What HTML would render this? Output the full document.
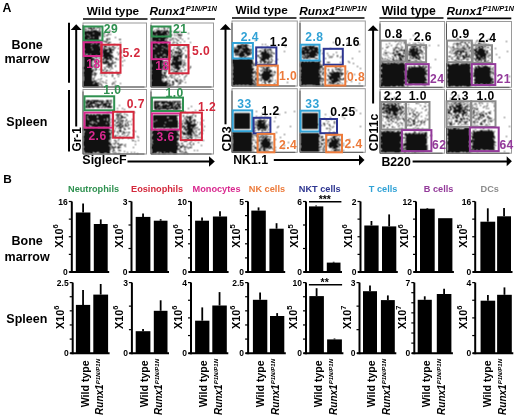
<!DOCTYPE html>
<html><head><meta charset="utf-8"><style>
html,body{margin:0;padding:0;background:#fff;}
body{width:520px;height:420px;overflow:hidden;}
svg{display:block;font-family:"Liberation Sans", sans-serif;filter:blur(0.3px);}
</style></head><body>
<svg width="520" height="420" viewBox="0 0 520 420">
<defs><filter id="bl" color-interpolation-filters="sRGB" x="-10%" y="-10%" width="120%" height="120%"><feConvolveMatrix order="3" kernelMatrix="1 2 1 2 4 2 1 2 1" divisor="16" edgeMode="none"/></filter><filter id="bl2" color-interpolation-filters="sRGB" x="0" y="0" width="100%" height="100%"><feConvolveMatrix order="3" kernelMatrix="1 2 1 2 12 2 1 2 1" divisor="24" edgeMode="duplicate"/></filter></defs>
<rect width="520" height="420" fill="#fff"/>
<g>
<text x="2.4" y="11.8" font-size="12.3" fill="#000" font-weight="bold" text-anchor="start">A</text>
<text x="27.1" y="48.5" font-size="12.5" fill="#000" font-weight="bold" text-anchor="middle">Bone</text>
<text x="27.1" y="63.4" font-size="12.5" fill="#000" font-weight="bold" text-anchor="middle">marrow</text>
<text x="26.8" y="126.3" font-size="12.5" fill="#000" font-weight="bold" text-anchor="middle">Spleen</text>
<text x="113.0" y="15" font-size="11.8" fill="#000" font-weight="bold" text-anchor="middle">Wild type</text>
<line x1="83" y1="19" x2="147.5" y2="19" stroke="#000" stroke-width="1.6"/>
<text x="149.6" y="15.4" font-size="11.8" font-weight="bold" font-style="italic">Runx1<tspan dy="-4" font-size="7.5">P1N/P1N</tspan></text>
<line x1="150.6" y1="19" x2="215" y2="19" stroke="#000" stroke-width="1.6"/>
<text x="261.6" y="14.2" font-size="11.8" fill="#000" font-weight="bold" text-anchor="middle">Wild type</text>
<line x1="232" y1="18" x2="296.5" y2="18" stroke="#000" stroke-width="1.6"/>
<text x="299.3" y="14.5" font-size="11.8" font-weight="bold" font-style="italic">Runx1<tspan dy="-4" font-size="7.5">P1N/P1N</tspan></text>
<line x1="299.6" y1="18" x2="364.5" y2="18" stroke="#000" stroke-width="1.6"/>
<text x="408.7" y="14.6" font-size="12.2" fill="#000" font-weight="bold" text-anchor="middle">Wild type</text>
<line x1="379.4" y1="18" x2="443.5" y2="18" stroke="#000" stroke-width="1.6"/>
<text x="446.5" y="14.7" font-size="11.8" font-weight="bold" font-style="italic">Runx1<tspan dy="-4" font-size="7.5">P1N/P1N</tspan></text>
<line x1="447.2" y1="18.4" x2="511.3" y2="18.4" stroke="#000" stroke-width="1.6"/>
<line x1="69" y1="22.7" x2="69" y2="82.8" stroke="#000" stroke-width="2"/>
<line x1="69" y1="90" x2="69" y2="151.5" stroke="#000" stroke-width="2"/>
<line x1="76.2" y1="28" x2="76.2" y2="126.5" stroke="#000" stroke-width="2"/>
<polygon points="76.2,24.2 70.7,29.9 81.7,29.9" fill="#000"/>
<text x="81.3" y="151.5" font-size="11.9" fill="#000" font-weight="bold" text-anchor="start" transform="rotate(-90 81.3 151.5)">Gr-1</text>
<text x="82.3" y="164.3" font-size="12.5" fill="#000" font-weight="bold" text-anchor="start">SiglecF</text>
<line x1="127.5" y1="161.4" x2="210" y2="161.4" stroke="#000" stroke-width="2"/>
<polygon points="214.8,161.4 209,156.2 209,166.8" fill="#000"/>
<line x1="225.5" y1="28" x2="225.5" y2="124.3" stroke="#000" stroke-width="2"/>
<polygon points="225.5,24 219.8,29.8 231.1,29.8" fill="#000"/>
<text x="230.6" y="151.4" font-size="12.5" fill="#000" font-weight="bold" text-anchor="start" transform="rotate(-90 230.6 151.4)">CD3</text>
<text x="233.2" y="163.5" font-size="12.3" fill="#000" font-weight="bold" text-anchor="start">NK1.1</text>
<line x1="273.8" y1="160.1" x2="360" y2="160.1" stroke="#000" stroke-width="2"/>
<polygon points="364.5,160.1 359,154.7 359,165.6" fill="#000"/>
<line x1="373.1" y1="29" x2="373.1" y2="103.5" stroke="#000" stroke-width="2"/>
<polygon points="373.1,25.2 367.6,30.8 378.6,30.8" fill="#000"/>
<text x="378.0" y="151.2" font-size="12.3" fill="#000" font-weight="bold" text-anchor="start" transform="rotate(-90 378.0 151.2)">CD11c</text>
<text x="381.4" y="165.5" font-size="12.3" fill="#000" font-weight="bold" text-anchor="start">B220</text>
<line x1="412.6" y1="161.5" x2="507" y2="161.5" stroke="#000" stroke-width="2"/>
<polygon points="511.9,161.3 506.7,156.3 506.7,166.3" fill="#000"/>
<path d="M85 27h1v1h-1zM88 27h1v1h-1zM90 27h2v1h-2zM93 27h2v1h-2zM97 27h3v1h-3zM88 28h4v1h-4zM93 28h2v1h-2zM96 28h1v1h-1zM100 28h1v1h-1zM84 29h3v1h-3zM91 29h2v1h-2zM99 29h1v1h-1zM88 30h1v1h-1zM91 30h1v1h-1zM93 30h4v1h-4zM99 30h1v1h-1zM106 30h1v1h-1zM109 30h1v1h-1zM84 31h15v1h-15zM100 31h1v1h-1zM110 31h1v1h-1zM84 32h17v1h-17zM84 33h9v1h-9zM94 33h7v1h-7zM103 33h2v1h-2zM108 33h1v1h-1zM84 34h3v1h-3zM88 34h13v1h-13zM108 34h1v1h-1zM110 34h1v1h-1zM85 35h4v1h-4zM90 35h11v1h-11zM103 35h1v1h-1zM106 35h2v1h-2zM84 36h15v1h-15zM100 36h1v1h-1zM104 36h1v1h-1zM84 37h6v1h-6zM91 37h2v1h-2zM94 37h5v1h-5zM115 37h1v1h-1zM84 38h4v1h-4zM89 38h10v1h-10zM101 38h1v1h-1zM107 38h1v1h-1zM109 38h1v1h-1zM84 39h15v1h-15zM106 39h2v1h-2zM109 39h1v1h-1zM119 39h2v1h-2zM84 40h15v1h-15zM107 40h1v1h-1zM84 41h2v1h-2zM87 41h9v1h-9zM97 41h3v1h-3zM101 41h1v1h-1zM103 41h4v1h-4zM84 42h8v1h-8zM93 42h8v1h-8zM106 42h1v1h-1zM108 42h3v1h-3zM120 42h1v1h-1zM84 43h9v1h-9zM94 43h2v1h-2zM97 43h3v1h-3zM108 43h1v1h-1zM84 44h7v1h-7zM92 44h9v1h-9zM102 44h1v1h-1zM107 44h2v1h-2zM114 44h1v1h-1zM84 45h15v1h-15zM101 45h1v1h-1zM104 45h2v1h-2zM109 45h1v1h-1zM117 45h1v1h-1zM84 46h19v1h-19zM104 46h3v1h-3zM112 46h2v1h-2zM84 47h7v1h-7zM92 47h8v1h-8zM101 47h1v1h-1zM104 47h1v1h-1zM106 47h1v1h-1zM108 47h2v1h-2zM111 47h1v1h-1zM113 47h1v1h-1zM115 47h1v1h-1zM84 48h18v1h-18zM103 48h2v1h-2zM109 48h2v1h-2zM114 48h1v1h-1zM118 48h1v1h-1zM85 49h7v1h-7zM93 49h10v1h-10zM104 49h10v1h-10zM84 50h17v1h-17zM102 50h6v1h-6zM109 50h3v1h-3zM113 50h1v1h-1zM121 50h1v1h-1zM84 51h16v1h-16zM101 51h1v1h-1zM103 51h4v1h-4zM109 51h3v1h-3zM84 52h29v1h-29zM117 52h1v1h-1zM120 52h2v1h-2zM85 53h17v1h-17zM103 53h7v1h-7zM111 53h1v1h-1zM119 53h1v1h-1zM84 54h2v1h-2zM88 54h2v1h-2zM91 54h11v1h-11zM103 54h8v1h-8zM118 54h1v1h-1zM84 55h1v1h-1zM86 55h10v1h-10zM97 55h5v1h-5zM103 55h10v1h-10zM83 56h10v1h-10zM95 56h2v1h-2zM102 56h11v1h-11zM84 57h8v1h-8zM94 57h1v1h-1zM96 57h1v1h-1zM98 57h1v1h-1zM100 57h1v1h-1zM104 57h4v1h-4zM109 57h2v1h-2zM112 57h2v1h-2zM120 57h1v1h-1zM122 57h1v1h-1zM84 58h10v1h-10zM96 58h1v1h-1zM99 58h1v1h-1zM103 58h9v1h-9zM115 58h2v1h-2zM84 59h11v1h-11zM102 59h2v1h-2zM106 59h3v1h-3zM110 59h2v1h-2zM116 59h1v1h-1zM118 59h1v1h-1zM84 60h9v1h-9zM94 60h3v1h-3zM100 60h1v1h-1zM103 60h1v1h-1zM105 60h2v1h-2zM110 60h1v1h-1zM112 60h1v1h-1zM124 60h1v1h-1zM84 61h8v1h-8zM95 61h2v1h-2zM100 61h2v1h-2zM103 61h1v1h-1zM105 61h4v1h-4zM112 61h1v1h-1zM122 61h1v1h-1zM84 62h8v1h-8zM93 62h1v1h-1zM96 62h1v1h-1zM98 62h1v1h-1zM102 62h7v1h-7zM112 62h1v1h-1zM114 62h2v1h-2zM84 63h8v1h-8zM96 63h1v1h-1zM98 63h1v1h-1zM103 63h4v1h-4zM108 63h6v1h-6zM84 64h8v1h-8zM93 64h1v1h-1zM96 64h1v1h-1zM107 64h3v1h-3zM111 64h1v1h-1zM84 65h8v1h-8zM94 65h1v1h-1zM96 65h1v1h-1zM108 65h4v1h-4zM115 65h1v1h-1zM122 65h1v1h-1zM84 66h10v1h-10zM96 66h1v1h-1zM106 66h2v1h-2zM109 66h1v1h-1zM111 66h1v1h-1zM115 66h1v1h-1zM83 67h9v1h-9zM94 67h2v1h-2zM104 67h1v1h-1zM108 67h2v1h-2zM111 67h1v1h-1zM83 68h9v1h-9zM96 68h1v1h-1zM105 68h1v1h-1zM112 68h1v1h-1zM84 69h8v1h-8zM93 69h1v1h-1zM95 69h2v1h-2zM99 69h1v1h-1zM101 69h1v1h-1zM104 69h1v1h-1zM110 69h1v1h-1zM84 70h10v1h-10zM95 70h1v1h-1zM102 70h2v1h-2zM106 70h2v1h-2zM84 71h9v1h-9zM106 71h1v1h-1zM109 71h1v1h-1zM116 71h1v1h-1zM83 72h10v1h-10zM94 72h1v1h-1zM104 72h2v1h-2zM111 72h2v1h-2zM83 73h9v1h-9zM94 73h3v1h-3zM100 73h1v1h-1zM102 73h1v1h-1zM104 73h1v1h-1zM106 73h1v1h-1zM109 73h1v1h-1zM117 73h2v1h-2zM84 74h10v1h-10zM95 74h1v1h-1zM112 74h1v1h-1zM117 74h1v1h-1zM119 74h1v1h-1zM83 75h9v1h-9zM94 75h2v1h-2zM101 75h1v1h-1zM104 75h1v1h-1zM112 75h1v1h-1zM84 76h8v1h-8zM106 76h1v1h-1zM112 76h1v1h-1zM118 76h1v1h-1zM84 77h8v1h-8zM94 77h1v1h-1zM84 78h8v1h-8zM93 78h1v1h-1zM101 78h1v1h-1zM114 78h1v1h-1zM84 79h8v1h-8zM93 79h1v1h-1zM98 79h1v1h-1zM100 79h1v1h-1zM84 80h8v1h-8zM94 80h1v1h-1zM96 80h1v1h-1zM106 80h1v1h-1zM83 81h13v1h-13zM100 81h1v1h-1zM102 81h1v1h-1zM115 81h1v1h-1zM83 82h11v1h-11zM95 82h2v1h-2zM98 82h1v1h-1zM103 82h1v1h-1zM105 82h1v1h-1zM113 82h1v1h-1zM83 83h10v1h-10zM94 83h5v1h-5zM100 83h1v1h-1zM106 83h1v1h-1zM112 83h1v1h-1zM114 83h1v1h-1zM120 83h1v1h-1zM83 84h15v1h-15zM99 84h1v1h-1zM101 84h1v1h-1zM112 84h1v1h-1zM83 85h16v1h-16zM101 85h1v1h-1zM115 85h1v1h-1zM83 86h16v1h-16zM102 86h1v1h-1zM107 86h1v1h-1zM115 86h1v1h-1z" fill="#111" filter="url(#bl)"/>
<rect x="83" y="23" width="63.5" height="64" fill="none" stroke="#9a9a9a" stroke-width="1"/>
<path d="M83 25V87H144.5" fill="none" stroke="#555" stroke-width="1"/>
<rect x="83.7" y="26.5" width="18.799999999999997" height="14.0" fill="none" stroke="#2f9150" stroke-width="2"/>
<rect x="83.7" y="42.3" width="18.0" height="13.700000000000003" fill="none" stroke="#d9288f" stroke-width="2"/>
<rect x="101.3" y="44.7" width="19.200000000000003" height="28.099999999999994" fill="none" stroke="#d4283c" stroke-width="2"/>
<text x="103.8" y="32.5" font-size="12.1" fill="#2f9150" font-weight="bold" text-anchor="start" letter-spacing="0.45">29</text>
<text x="122.4" y="57.4" font-size="12.1" fill="#d4283c" font-weight="bold" text-anchor="start" letter-spacing="0.45">5.2</text>
<text x="86.3" y="67.8" font-size="12.1" fill="#d9288f" font-weight="bold" text-anchor="start" letter-spacing="0.45">18</text>
<path d="M152 27h1v1h-1zM158 27h1v1h-1zM161 27h1v1h-1zM163 27h2v1h-2zM168 27h2v1h-2zM152 28h1v1h-1zM158 28h1v1h-1zM164 28h1v1h-1zM167 28h1v1h-1zM156 29h1v1h-1zM164 29h1v1h-1zM154 30h1v1h-1zM157 30h3v1h-3zM161 30h2v1h-2zM164 30h1v1h-1zM166 30h2v1h-2zM152 31h2v1h-2zM156 31h6v1h-6zM163 31h6v1h-6zM170 31h2v1h-2zM174 31h1v1h-1zM176 31h1v1h-1zM179 31h1v1h-1zM152 32h9v1h-9zM162 32h5v1h-5zM168 32h2v1h-2zM176 32h1v1h-1zM181 32h1v1h-1zM152 33h15v1h-15zM168 33h1v1h-1zM174 33h1v1h-1zM177 33h1v1h-1zM188 33h1v1h-1zM152 34h4v1h-4zM157 34h11v1h-11zM169 34h1v1h-1zM171 34h1v1h-1zM178 34h2v1h-2zM181 34h1v1h-1zM152 35h1v1h-1zM154 35h11v1h-11zM166 35h1v1h-1zM168 35h1v1h-1zM170 35h2v1h-2zM174 35h1v1h-1zM176 35h1v1h-1zM178 35h4v1h-4zM152 36h4v1h-4zM157 36h5v1h-5zM163 36h4v1h-4zM168 36h1v1h-1zM152 37h16v1h-16zM170 37h1v1h-1zM178 37h1v1h-1zM180 37h1v1h-1zM152 38h14v1h-14zM167 38h1v1h-1zM172 38h2v1h-2zM175 38h1v1h-1zM180 38h1v1h-1zM188 38h1v1h-1zM152 39h7v1h-7zM160 39h5v1h-5zM166 39h1v1h-1zM169 39h1v1h-1zM171 39h1v1h-1zM176 39h1v1h-1zM182 39h1v1h-1zM152 40h13v1h-13zM166 40h1v1h-1zM170 40h1v1h-1zM173 40h1v1h-1zM177 40h2v1h-2zM152 41h1v1h-1zM154 41h1v1h-1zM156 41h11v1h-11zM168 41h1v1h-1zM184 41h1v1h-1zM152 42h2v1h-2zM155 42h3v1h-3zM159 42h3v1h-3zM164 42h4v1h-4zM173 42h2v1h-2zM176 42h1v1h-1zM180 42h1v1h-1zM190 42h1v1h-1zM152 43h6v1h-6zM160 43h7v1h-7zM172 43h1v1h-1zM177 43h1v1h-1zM152 44h16v1h-16zM177 44h1v1h-1zM152 45h3v1h-3zM156 45h12v1h-12zM169 45h1v1h-1zM171 45h1v1h-1zM177 45h1v1h-1zM180 45h1v1h-1zM184 45h1v1h-1zM186 45h1v1h-1zM152 46h4v1h-4zM157 46h5v1h-5zM163 46h7v1h-7zM178 46h2v1h-2zM187 46h1v1h-1zM152 47h12v1h-12zM165 47h3v1h-3zM170 47h1v1h-1zM174 47h1v1h-1zM177 47h1v1h-1zM184 47h1v1h-1zM187 47h1v1h-1zM152 48h1v1h-1zM155 48h11v1h-11zM167 48h2v1h-2zM176 48h4v1h-4zM182 48h2v1h-2zM152 49h10v1h-10zM163 49h5v1h-5zM169 49h1v1h-1zM173 49h1v1h-1zM179 49h2v1h-2zM152 50h20v1h-20zM173 50h1v1h-1zM178 50h1v1h-1zM180 50h2v1h-2zM185 50h1v1h-1zM152 51h20v1h-20zM175 51h2v1h-2zM178 51h1v1h-1zM181 51h1v1h-1zM188 51h1v1h-1zM152 52h9v1h-9zM162 52h8v1h-8zM172 52h1v1h-1zM174 52h8v1h-8zM152 53h6v1h-6zM159 53h10v1h-10zM172 53h1v1h-1zM176 53h1v1h-1zM178 53h3v1h-3zM183 53h1v1h-1zM152 54h12v1h-12zM165 54h4v1h-4zM170 54h2v1h-2zM174 54h2v1h-2zM177 54h1v1h-1zM179 54h1v1h-1zM181 54h2v1h-2zM188 54h1v1h-1zM152 55h3v1h-3zM156 55h7v1h-7zM164 55h1v1h-1zM166 55h3v1h-3zM171 55h1v1h-1zM173 55h1v1h-1zM177 55h5v1h-5zM185 55h2v1h-2zM152 56h16v1h-16zM170 56h1v1h-1zM172 56h10v1h-10zM186 56h1v1h-1zM152 57h3v1h-3zM156 57h4v1h-4zM162 57h6v1h-6zM169 57h3v1h-3zM173 57h6v1h-6zM180 57h2v1h-2zM185 57h2v1h-2zM189 57h1v1h-1zM152 58h4v1h-4zM157 58h7v1h-7zM166 58h2v1h-2zM169 58h1v1h-1zM173 58h6v1h-6zM180 58h1v1h-1zM151 59h11v1h-11zM172 59h8v1h-8zM181 59h1v1h-1zM151 60h12v1h-12zM166 60h1v1h-1zM168 60h1v1h-1zM171 60h1v1h-1zM173 60h5v1h-5zM180 60h1v1h-1zM182 60h1v1h-1zM184 60h1v1h-1zM151 61h12v1h-12zM164 61h1v1h-1zM172 61h2v1h-2zM175 61h7v1h-7zM151 62h14v1h-14zM166 62h1v1h-1zM169 62h1v1h-1zM172 62h10v1h-10zM183 62h2v1h-2zM151 63h11v1h-11zM163 63h1v1h-1zM165 63h2v1h-2zM171 63h11v1h-11zM185 63h1v1h-1zM152 64h11v1h-11zM164 64h2v1h-2zM170 64h12v1h-12zM183 64h2v1h-2zM152 65h10v1h-10zM163 65h2v1h-2zM171 65h2v1h-2zM174 65h5v1h-5zM180 65h1v1h-1zM183 65h1v1h-1zM185 65h1v1h-1zM152 66h15v1h-15zM168 66h1v1h-1zM173 66h1v1h-1zM175 66h4v1h-4zM182 66h1v1h-1zM190 66h1v1h-1zM151 67h12v1h-12zM165 67h2v1h-2zM171 67h1v1h-1zM173 67h8v1h-8zM183 67h1v1h-1zM190 67h1v1h-1zM151 68h11v1h-11zM163 68h3v1h-3zM175 68h5v1h-5zM189 68h1v1h-1zM151 69h12v1h-12zM164 69h3v1h-3zM171 69h2v1h-2zM174 69h1v1h-1zM177 69h3v1h-3zM185 69h1v1h-1zM152 70h10v1h-10zM164 70h1v1h-1zM166 70h1v1h-1zM170 70h1v1h-1zM173 70h1v1h-1zM177 70h1v1h-1zM181 70h1v1h-1zM184 70h1v1h-1zM151 71h11v1h-11zM166 71h1v1h-1zM174 71h4v1h-4zM179 71h1v1h-1zM181 71h1v1h-1zM151 72h11v1h-11zM163 72h3v1h-3zM172 72h2v1h-2zM175 72h3v1h-3zM152 73h10v1h-10zM164 73h2v1h-2zM178 73h1v1h-1zM182 73h1v1h-1zM187 73h1v1h-1zM151 74h12v1h-12zM164 74h1v1h-1zM171 74h1v1h-1zM175 74h2v1h-2zM178 74h1v1h-1zM182 74h1v1h-1zM151 75h15v1h-15zM170 75h1v1h-1zM172 75h1v1h-1zM186 75h1v1h-1zM151 76h11v1h-11zM163 76h1v1h-1zM165 76h2v1h-2zM170 76h1v1h-1zM174 76h1v1h-1zM179 76h1v1h-1zM185 76h1v1h-1zM151 77h13v1h-13zM165 77h2v1h-2zM168 77h1v1h-1zM171 77h2v1h-2zM184 77h1v1h-1zM151 78h11v1h-11zM163 78h1v1h-1zM174 78h1v1h-1zM177 78h1v1h-1zM151 79h11v1h-11zM167 79h1v1h-1zM175 79h1v1h-1zM180 79h1v1h-1zM184 79h1v1h-1zM152 80h10v1h-10zM163 80h1v1h-1zM169 80h1v1h-1zM175 80h3v1h-3zM179 80h1v1h-1zM181 80h1v1h-1zM151 81h12v1h-12zM165 81h3v1h-3zM169 81h1v1h-1zM172 81h2v1h-2zM176 81h2v1h-2zM180 81h1v1h-1zM182 81h1v1h-1zM151 82h16v1h-16zM172 82h2v1h-2zM178 82h1v1h-1zM180 82h1v1h-1zM185 82h1v1h-1zM151 83h19v1h-19zM173 83h1v1h-1zM179 83h2v1h-2zM151 84h17v1h-17zM170 84h1v1h-1zM172 84h2v1h-2zM178 84h1v1h-1zM151 85h16v1h-16zM168 85h3v1h-3zM172 85h1v1h-1zM151 86h18v1h-18zM170 86h1v1h-1zM177 86h1v1h-1z" fill="#111" filter="url(#bl)"/>
<rect x="151" y="23" width="62.5" height="64" fill="none" stroke="#9a9a9a" stroke-width="1"/>
<path d="M151 25V87H211.5" fill="none" stroke="#555" stroke-width="1"/>
<rect x="151.7" y="26.5" width="18.80000000000001" height="10.0" fill="none" stroke="#2f9150" stroke-width="2"/>
<rect x="151.7" y="42.5" width="18.0" height="16.700000000000003" fill="none" stroke="#d9288f" stroke-width="2"/>
<rect x="169.3" y="45" width="19.19999999999999" height="28.299999999999997" fill="none" stroke="#d4283c" stroke-width="2"/>
<text x="173" y="32.8" font-size="12.1" fill="#2f9150" font-weight="bold" text-anchor="start" letter-spacing="0.45">21</text>
<text x="192" y="55" font-size="12.1" fill="#d4283c" font-weight="bold" text-anchor="start" letter-spacing="0.45">5.0</text>
<text x="155.3" y="69.8" font-size="12.1" fill="#d9288f" font-weight="bold" text-anchor="start" letter-spacing="0.45">18</text>
<path d="M86 100h4v1h-4zM91 100h8v1h-8zM100 100h1v1h-1zM102 100h1v1h-1zM106 100h3v1h-3zM110 100h2v1h-2zM85 101h1v1h-1zM87 101h5v1h-5zM93 101h12v1h-12zM106 101h3v1h-3zM110 101h1v1h-1zM85 102h4v1h-4zM90 102h5v1h-5zM96 102h1v1h-1zM99 102h1v1h-1zM101 102h2v1h-2zM106 102h1v1h-1zM108 102h1v1h-1zM111 102h1v1h-1zM86 103h2v1h-2zM89 103h7v1h-7zM97 103h1v1h-1zM101 103h10v1h-10zM86 104h1v1h-1zM88 104h4v1h-4zM95 104h7v1h-7zM103 104h4v1h-4zM109 104h2v1h-2zM86 105h4v1h-4zM91 105h2v1h-2zM95 105h1v1h-1zM97 105h4v1h-4zM102 105h5v1h-5zM108 105h2v1h-2zM119 105h1v1h-1zM85 106h2v1h-2zM88 106h11v1h-11zM103 106h1v1h-1zM105 106h7v1h-7zM85 107h6v1h-6zM92 107h2v1h-2zM97 107h3v1h-3zM101 107h2v1h-2zM104 107h2v1h-2zM107 107h5v1h-5zM129 107h1v1h-1zM117 108h1v1h-1zM122 108h1v1h-1zM124 109h1v1h-1zM109 111h1v1h-1zM113 111h1v1h-1zM117 111h1v1h-1zM107 112h1v1h-1zM117 112h1v1h-1zM119 112h1v1h-1zM121 112h1v1h-1zM124 112h1v1h-1zM134 112h1v1h-1zM120 113h1v1h-1zM85 114h4v1h-4zM90 114h2v1h-2zM93 114h2v1h-2zM96 114h5v1h-5zM102 114h8v1h-8zM116 114h4v1h-4zM124 114h1v1h-1zM126 114h1v1h-1zM85 115h25v1h-25zM116 115h1v1h-1zM118 115h1v1h-1zM120 115h2v1h-2zM127 115h1v1h-1zM85 116h2v1h-2zM88 116h9v1h-9zM98 116h12v1h-12zM117 116h2v1h-2zM121 116h2v1h-2zM85 117h12v1h-12zM98 117h12v1h-12zM117 117h1v1h-1zM119 117h1v1h-1zM121 117h5v1h-5zM85 118h2v1h-2zM88 118h19v1h-19zM108 118h2v1h-2zM116 118h1v1h-1zM118 118h1v1h-1zM120 118h2v1h-2zM85 119h3v1h-3zM89 119h15v1h-15zM105 119h2v1h-2zM108 119h2v1h-2zM111 119h1v1h-1zM117 119h1v1h-1zM119 119h1v1h-1zM126 119h1v1h-1zM132 119h1v1h-1zM85 120h12v1h-12zM99 120h8v1h-8zM108 120h2v1h-2zM114 120h2v1h-2zM118 120h1v1h-1zM120 120h4v1h-4zM126 120h1v1h-1zM85 121h7v1h-7zM93 121h5v1h-5zM99 121h11v1h-11zM112 121h1v1h-1zM114 121h1v1h-1zM118 121h1v1h-1zM120 121h1v1h-1zM122 121h1v1h-1zM125 121h1v1h-1zM128 121h1v1h-1zM130 121h1v1h-1zM85 122h5v1h-5zM91 122h1v1h-1zM93 122h1v1h-1zM95 122h14v1h-14zM110 122h1v1h-1zM116 122h3v1h-3zM120 122h1v1h-1zM122 122h1v1h-1zM127 122h1v1h-1zM85 123h7v1h-7zM93 123h3v1h-3zM97 123h9v1h-9zM107 123h3v1h-3zM116 123h1v1h-1zM119 123h2v1h-2zM122 123h1v1h-1zM125 123h1v1h-1zM127 123h1v1h-1zM85 124h25v1h-25zM114 124h1v1h-1zM118 124h1v1h-1zM120 124h2v1h-2zM125 124h1v1h-1zM128 124h1v1h-1zM131 124h1v1h-1zM85 125h4v1h-4zM90 125h20v1h-20zM111 125h1v1h-1zM115 125h1v1h-1zM117 125h4v1h-4zM122 125h2v1h-2zM125 125h2v1h-2zM128 125h1v1h-1zM84 126h6v1h-6zM92 126h18v1h-18zM113 126h1v1h-1zM116 126h2v1h-2zM119 126h1v1h-1zM121 126h2v1h-2zM125 126h1v1h-1zM127 126h1v1h-1zM84 127h1v1h-1zM87 127h2v1h-2zM90 127h3v1h-3zM94 127h4v1h-4zM100 127h1v1h-1zM102 127h1v1h-1zM105 127h1v1h-1zM107 127h2v1h-2zM119 127h3v1h-3zM123 127h1v1h-1zM83 128h26v1h-26zM115 128h1v1h-1zM118 128h1v1h-1zM120 128h1v1h-1zM124 128h1v1h-1zM128 128h2v1h-2zM83 129h27v1h-27zM112 129h1v1h-1zM120 129h1v1h-1zM124 129h2v1h-2zM83 130h29v1h-29zM114 130h1v1h-1zM119 130h2v1h-2zM133 130h1v1h-1zM85 131h24v1h-24zM112 131h1v1h-1zM114 131h1v1h-1zM117 131h1v1h-1zM119 131h3v1h-3zM123 131h1v1h-1zM135 131h1v1h-1zM84 132h26v1h-26zM111 132h3v1h-3zM117 132h1v1h-1zM123 132h2v1h-2zM126 132h1v1h-1zM128 132h2v1h-2zM84 133h27v1h-27zM112 133h1v1h-1zM118 133h1v1h-1zM122 133h1v1h-1zM124 133h1v1h-1zM84 134h27v1h-27zM122 134h1v1h-1zM128 134h1v1h-1zM133 134h1v1h-1zM84 135h26v1h-26zM111 135h1v1h-1zM115 135h1v1h-1zM117 135h1v1h-1zM124 135h1v1h-1zM127 135h1v1h-1zM83 136h27v1h-27zM114 136h2v1h-2zM119 136h2v1h-2zM126 136h1v1h-1zM137 136h1v1h-1zM83 137h29v1h-29zM115 137h1v1h-1zM122 137h2v1h-2zM129 137h1v1h-1zM138 137h1v1h-1zM84 138h26v1h-26zM118 138h2v1h-2zM122 138h1v1h-1zM128 138h1v1h-1zM131 138h1v1h-1zM83 139h28v1h-28zM84 140h25v1h-25zM114 140h2v1h-2zM118 140h1v1h-1zM132 140h2v1h-2zM138 140h1v1h-1zM83 141h26v1h-26zM110 141h1v1h-1zM116 141h1v1h-1zM135 141h1v1h-1zM83 142h27v1h-27zM115 142h1v1h-1zM83 143h28v1h-28zM113 143h1v1h-1zM115 143h1v1h-1zM117 143h2v1h-2zM83 144h29v1h-29zM114 144h1v1h-1zM118 144h1v1h-1zM120 144h3v1h-3zM125 144h1v1h-1zM135 144h1v1h-1zM83 145h26v1h-26zM110 145h1v1h-1zM119 145h2v1h-2zM124 145h1v1h-1zM84 146h26v1h-26zM111 146h2v1h-2zM115 146h1v1h-1zM118 146h1v1h-1zM125 146h1v1h-1zM84 147h27v1h-27zM112 147h4v1h-4zM117 147h4v1h-4zM133 147h1v1h-1zM83 148h27v1h-27zM111 148h1v1h-1zM113 148h1v1h-1zM118 148h1v1h-1zM83 149h28v1h-28zM113 149h1v1h-1zM84 150h26v1h-26zM113 150h2v1h-2zM118 150h3v1h-3zM84 151h26v1h-26zM112 151h1v1h-1zM124 151h1v1h-1zM83 152h1v1h-1zM85 152h8v1h-8zM94 152h3v1h-3zM99 152h11v1h-11zM113 152h1v1h-1zM115 152h1v1h-1zM127 152h1v1h-1zM131 152h1v1h-1zM134 152h1v1h-1zM85 153h1v1h-1zM88 153h1v1h-1zM90 153h3v1h-3zM98 153h1v1h-1zM100 153h4v1h-4zM107 153h3v1h-3zM114 153h1v1h-1zM116 153h1v1h-1zM118 153h2v1h-2zM137 153h1v1h-1z" fill="#111" filter="url(#bl)"/>
<rect x="83" y="89.5" width="63.5" height="64.5" fill="none" stroke="#9a9a9a" stroke-width="1"/>
<path d="M83 91.5V154H144.5" fill="none" stroke="#555" stroke-width="1"/>
<rect x="84.5" y="96.3" width="29.700000000000003" height="14.0" fill="none" stroke="#2f9150" stroke-width="2"/>
<rect x="84.5" y="112.6" width="28.200000000000003" height="15.100000000000009" fill="none" stroke="#d9288f" stroke-width="2"/>
<rect x="113.1" y="111.8" width="20.5" height="25.89999999999999" fill="none" stroke="#d4283c" stroke-width="2"/>
<text x="103.3" y="94.0" font-size="12.1" fill="#2f9150" font-weight="bold" text-anchor="start" letter-spacing="0.45">1.0</text>
<text x="126.7" y="108.3" font-size="12.1" fill="#d4283c" font-weight="bold" text-anchor="start" letter-spacing="0.45">0.7</text>
<text x="88.4" y="139.6" font-size="12.1" fill="#d9288f" font-weight="bold" text-anchor="start" letter-spacing="0.45">2.6</text>
<path d="M154 101h14v1h-14zM169 101h2v1h-2zM172 101h9v1h-9zM154 102h6v1h-6zM161 102h12v1h-12zM174 102h2v1h-2zM177 102h1v1h-1zM179 102h1v1h-1zM154 103h2v1h-2zM157 103h1v1h-1zM161 103h4v1h-4zM167 103h8v1h-8zM177 103h2v1h-2zM180 103h1v1h-1zM154 104h5v1h-5zM160 104h1v1h-1zM163 104h1v1h-1zM165 104h2v1h-2zM169 104h4v1h-4zM174 104h1v1h-1zM176 104h5v1h-5zM154 105h2v1h-2zM157 105h3v1h-3zM162 105h12v1h-12zM175 105h2v1h-2zM178 105h2v1h-2zM154 106h16v1h-16zM171 106h2v1h-2zM174 106h2v1h-2zM177 106h4v1h-4zM191 106h1v1h-1zM154 107h5v1h-5zM160 107h1v1h-1zM162 107h5v1h-5zM168 107h1v1h-1zM170 107h8v1h-8zM179 107h2v1h-2zM154 108h3v1h-3zM158 108h16v1h-16zM175 108h4v1h-4zM180 108h1v1h-1zM188 108h1v1h-1zM155 109h6v1h-6zM162 109h1v1h-1zM164 109h1v1h-1zM166 109h3v1h-3zM170 109h1v1h-1zM173 109h5v1h-5zM179 109h1v1h-1zM195 110h1v1h-1zM184 111h1v1h-1zM185 112h1v1h-1zM192 112h2v1h-2zM187 113h1v1h-1zM193 114h1v1h-1zM153 115h26v1h-26zM183 115h1v1h-1zM192 115h1v1h-1zM195 115h1v1h-1zM153 116h24v1h-24zM183 116h1v1h-1zM186 116h2v1h-2zM189 116h3v1h-3zM195 116h1v1h-1zM153 117h14v1h-14zM169 117h8v1h-8zM185 117h1v1h-1zM187 117h4v1h-4zM192 117h1v1h-1zM153 118h25v1h-25zM184 118h1v1h-1zM187 118h1v1h-1zM189 118h3v1h-3zM201 118h1v1h-1zM153 119h24v1h-24zM185 119h2v1h-2zM189 119h2v1h-2zM194 119h1v1h-1zM153 120h3v1h-3zM157 120h12v1h-12zM170 120h1v1h-1zM172 120h6v1h-6zM183 120h1v1h-1zM186 120h2v1h-2zM189 120h2v1h-2zM192 120h4v1h-4zM203 120h1v1h-1zM153 121h1v1h-1zM155 121h23v1h-23zM180 121h1v1h-1zM182 121h1v1h-1zM185 121h4v1h-4zM190 121h2v1h-2zM194 121h1v1h-1zM153 122h12v1h-12zM166 122h12v1h-12zM184 122h1v1h-1zM186 122h7v1h-7zM194 122h1v1h-1zM197 122h1v1h-1zM200 122h1v1h-1zM153 123h25v1h-25zM179 123h1v1h-1zM181 123h2v1h-2zM184 123h7v1h-7zM194 123h1v1h-1zM153 124h25v1h-25zM181 124h1v1h-1zM185 124h1v1h-1zM187 124h10v1h-10zM200 124h1v1h-1zM202 124h1v1h-1zM153 125h11v1h-11zM165 125h13v1h-13zM181 125h1v1h-1zM183 125h1v1h-1zM187 125h9v1h-9zM153 126h25v1h-25zM179 126h1v1h-1zM182 126h3v1h-3zM186 126h9v1h-9zM204 126h1v1h-1zM153 127h25v1h-25zM181 127h2v1h-2zM184 127h2v1h-2zM187 127h4v1h-4zM192 127h2v1h-2zM195 127h1v1h-1zM197 127h1v1h-1zM155 128h1v1h-1zM164 128h1v1h-1zM170 128h1v1h-1zM184 128h2v1h-2zM187 128h6v1h-6zM194 128h1v1h-1zM196 128h1v1h-1zM202 128h1v1h-1zM151 129h1v1h-1zM154 129h1v1h-1zM158 129h1v1h-1zM160 129h2v1h-2zM163 129h1v1h-1zM167 129h1v1h-1zM169 129h1v1h-1zM171 129h2v1h-2zM174 129h2v1h-2zM177 129h1v1h-1zM183 129h1v1h-1zM185 129h8v1h-8zM194 129h1v1h-1zM198 129h2v1h-2zM151 130h1v1h-1zM153 130h5v1h-5zM159 130h8v1h-8zM168 130h11v1h-11zM185 130h2v1h-2zM188 130h5v1h-5zM196 130h1v1h-1zM203 130h1v1h-1zM152 131h25v1h-25zM178 131h1v1h-1zM181 131h2v1h-2zM187 131h7v1h-7zM195 131h1v1h-1zM152 132h26v1h-26zM181 132h1v1h-1zM183 132h2v1h-2zM186 132h6v1h-6zM193 132h1v1h-1zM196 132h1v1h-1zM200 132h2v1h-2zM151 133h27v1h-27zM182 133h4v1h-4zM187 133h5v1h-5zM193 133h2v1h-2zM199 133h1v1h-1zM202 133h1v1h-1zM153 134h26v1h-26zM183 134h9v1h-9zM195 134h1v1h-1zM199 134h1v1h-1zM152 135h28v1h-28zM188 135h1v1h-1zM190 135h3v1h-3zM194 135h1v1h-1zM196 135h2v1h-2zM152 136h25v1h-25zM179 136h1v1h-1zM182 136h1v1h-1zM186 136h1v1h-1zM188 136h1v1h-1zM190 136h1v1h-1zM195 136h1v1h-1zM151 137h26v1h-26zM178 137h1v1h-1zM181 137h1v1h-1zM184 137h1v1h-1zM186 137h1v1h-1zM189 137h4v1h-4zM197 137h1v1h-1zM199 137h1v1h-1zM201 137h1v1h-1zM151 138h28v1h-28zM182 138h1v1h-1zM187 138h2v1h-2zM191 138h1v1h-1zM195 138h1v1h-1zM152 139h27v1h-27zM185 139h1v1h-1zM187 139h2v1h-2zM191 139h1v1h-1zM151 140h1v1h-1zM153 140h25v1h-25zM181 140h1v1h-1zM184 140h3v1h-3zM195 140h1v1h-1zM203 140h1v1h-1zM152 141h25v1h-25zM184 141h1v1h-1zM186 141h1v1h-1zM191 141h1v1h-1zM152 142h26v1h-26zM190 142h1v1h-1zM198 142h1v1h-1zM151 143h1v1h-1zM153 143h26v1h-26zM181 143h2v1h-2zM189 143h1v1h-1zM193 143h1v1h-1zM151 144h26v1h-26zM178 144h1v1h-1zM187 144h1v1h-1zM190 144h1v1h-1zM193 144h1v1h-1zM152 145h28v1h-28zM182 145h2v1h-2zM191 145h1v1h-1zM201 145h1v1h-1zM151 146h27v1h-27zM180 146h3v1h-3zM184 146h1v1h-1zM186 146h1v1h-1zM151 147h27v1h-27zM180 147h2v1h-2zM184 147h2v1h-2zM187 147h1v1h-1zM189 147h3v1h-3zM151 148h27v1h-27zM179 148h1v1h-1zM188 148h1v1h-1zM152 149h28v1h-28zM184 149h2v1h-2zM152 150h25v1h-25zM180 150h1v1h-1zM194 150h1v1h-1zM197 150h1v1h-1zM152 151h25v1h-25zM179 151h2v1h-2zM182 151h1v1h-1zM185 151h1v1h-1zM152 152h5v1h-5zM159 152h1v1h-1zM161 152h3v1h-3zM165 152h5v1h-5zM171 152h6v1h-6zM181 152h1v1h-1zM183 152h1v1h-1zM185 152h2v1h-2zM151 153h3v1h-3zM155 153h1v1h-1zM158 153h2v1h-2zM162 153h4v1h-4zM168 153h1v1h-1zM170 153h1v1h-1zM173 153h4v1h-4zM184 153h1v1h-1zM187 153h1v1h-1z" fill="#111" filter="url(#bl)"/>
<rect x="151" y="89.5" width="62.5" height="64.5" fill="none" stroke="#9a9a9a" stroke-width="1"/>
<path d="M151 91.5V154H211.5" fill="none" stroke="#555" stroke-width="1"/>
<rect x="151.9" y="97.6" width="31.099999999999994" height="13.400000000000006" fill="none" stroke="#2f9150" stroke-width="2"/>
<rect x="151.9" y="113.4" width="28.099999999999994" height="16.19999999999999" fill="none" stroke="#d9288f" stroke-width="2"/>
<rect x="180.7" y="112.6" width="21.200000000000017" height="27.5" fill="none" stroke="#d4283c" stroke-width="2"/>
<text x="165.5" y="96.5" font-size="12.1" fill="#2f9150" font-weight="bold" text-anchor="start" letter-spacing="0.45">1.0</text>
<text x="198" y="110.6" font-size="12.1" fill="#d4283c" font-weight="bold" text-anchor="start" letter-spacing="0.45">1.2</text>
<text x="156.4" y="141.0" font-size="12.1" fill="#d9288f" font-weight="bold" text-anchor="start" letter-spacing="0.45">3.6</text>
<path d="M255 40h1v1h-1zM241 44h3v1h-3zM245 44h2v1h-2zM262 44h1v1h-1zM265 44h1v1h-1zM237 45h5v1h-5zM243 45h6v1h-6zM237 46h10v1h-10zM250 46h1v1h-1zM267 46h1v1h-1zM271 46h1v1h-1zM285 46h1v1h-1zM234 47h1v1h-1zM236 47h6v1h-6zM243 47h1v1h-1zM245 47h3v1h-3zM261 47h1v1h-1zM233 48h1v1h-1zM235 48h1v1h-1zM238 48h11v1h-11zM265 48h1v1h-1zM270 48h1v1h-1zM234 49h6v1h-6zM242 49h10v1h-10zM262 49h1v1h-1zM264 49h2v1h-2zM267 49h4v1h-4zM234 50h5v1h-5zM240 50h2v1h-2zM243 50h7v1h-7zM251 50h1v1h-1zM260 50h1v1h-1zM264 50h2v1h-2zM267 50h1v1h-1zM270 50h2v1h-2zM233 51h7v1h-7zM241 51h7v1h-7zM249 51h2v1h-2zM257 51h1v1h-1zM259 51h2v1h-2zM262 51h1v1h-1zM264 51h3v1h-3zM268 51h1v1h-1zM284 51h1v1h-1zM234 52h5v1h-5zM240 52h10v1h-10zM251 52h2v1h-2zM261 52h6v1h-6zM268 52h1v1h-1zM270 52h3v1h-3zM235 53h1v1h-1zM237 53h1v1h-1zM239 53h5v1h-5zM245 53h6v1h-6zM252 53h1v1h-1zM261 53h8v1h-8zM273 53h2v1h-2zM235 54h10v1h-10zM246 54h5v1h-5zM260 54h12v1h-12zM235 55h1v1h-1zM237 55h1v1h-1zM239 55h6v1h-6zM247 55h2v1h-2zM257 55h2v1h-2zM262 55h8v1h-8zM271 55h1v1h-1zM239 56h5v1h-5zM245 56h2v1h-2zM256 56h1v1h-1zM258 56h1v1h-1zM261 56h12v1h-12zM241 57h1v1h-1zM244 57h2v1h-2zM259 57h2v1h-2zM262 57h8v1h-8zM233 58h1v1h-1zM239 58h4v1h-4zM244 58h1v1h-1zM247 58h3v1h-3zM252 58h1v1h-1zM260 58h9v1h-9zM271 58h1v1h-1zM232 59h20v1h-20zM261 59h5v1h-5zM267 59h2v1h-2zM271 59h1v1h-1zM277 59h1v1h-1zM232 60h21v1h-21zM260 60h5v1h-5zM269 60h1v1h-1zM272 60h1v1h-1zM232 61h21v1h-21zM260 61h1v1h-1zM263 61h4v1h-4zM268 61h1v1h-1zM271 61h1v1h-1zM275 61h1v1h-1zM232 62h21v1h-21zM256 62h2v1h-2zM260 62h2v1h-2zM264 62h2v1h-2zM267 62h5v1h-5zM232 63h22v1h-22zM255 63h1v1h-1zM264 63h1v1h-1zM267 63h1v1h-1zM233 64h19v1h-19zM253 64h1v1h-1zM255 64h2v1h-2zM259 64h2v1h-2zM262 64h2v1h-2zM265 64h1v1h-1zM267 64h4v1h-4zM274 64h1v1h-1zM232 65h20v1h-20zM253 65h2v1h-2zM233 66h20v1h-20zM256 66h1v1h-1zM259 66h1v1h-1zM261 66h1v1h-1zM263 66h1v1h-1zM265 66h1v1h-1zM268 66h1v1h-1zM271 66h1v1h-1zM275 66h1v1h-1zM233 67h19v1h-19zM261 67h1v1h-1zM263 67h1v1h-1zM266 67h4v1h-4zM233 68h21v1h-21zM263 68h2v1h-2zM266 68h2v1h-2zM233 69h21v1h-21zM256 69h2v1h-2zM262 69h1v1h-1zM264 69h6v1h-6zM232 70h21v1h-21zM260 70h1v1h-1zM262 70h1v1h-1zM264 70h1v1h-1zM266 70h2v1h-2zM269 70h3v1h-3zM233 71h20v1h-20zM254 71h2v1h-2zM261 71h1v1h-1zM263 71h9v1h-9zM274 71h1v1h-1zM233 72h22v1h-22zM256 72h2v1h-2zM263 72h8v1h-8zM272 72h1v1h-1zM274 72h2v1h-2zM232 73h22v1h-22zM255 73h2v1h-2zM258 73h2v1h-2zM262 73h8v1h-8zM232 74h20v1h-20zM256 74h1v1h-1zM259 74h1v1h-1zM261 74h12v1h-12zM274 74h1v1h-1zM278 74h1v1h-1zM233 75h20v1h-20zM255 75h1v1h-1zM257 75h1v1h-1zM259 75h13v1h-13zM273 75h1v1h-1zM233 76h20v1h-20zM254 76h1v1h-1zM262 76h11v1h-11zM233 77h19v1h-19zM253 77h1v1h-1zM256 77h1v1h-1zM261 77h9v1h-9zM232 78h21v1h-21zM255 78h2v1h-2zM258 78h1v1h-1zM260 78h1v1h-1zM262 78h8v1h-8zM272 78h1v1h-1zM232 79h21v1h-21zM255 79h2v1h-2zM258 79h1v1h-1zM261 79h1v1h-1zM263 79h6v1h-6zM270 79h1v1h-1zM233 80h22v1h-22zM256 80h1v1h-1zM258 80h1v1h-1zM260 80h2v1h-2zM264 80h4v1h-4zM269 80h2v1h-2zM272 80h1v1h-1zM275 80h1v1h-1zM233 81h20v1h-20zM254 81h1v1h-1zM257 81h1v1h-1zM264 81h1v1h-1zM268 81h4v1h-4zM232 82h21v1h-21zM254 82h2v1h-2zM262 82h1v1h-1zM264 82h2v1h-2zM268 82h2v1h-2zM276 82h1v1h-1zM287 82h1v1h-1zM232 83h22v1h-22zM256 83h1v1h-1zM258 83h1v1h-1zM265 83h1v1h-1zM274 83h1v1h-1zM233 84h24v1h-24zM261 84h1v1h-1zM265 84h1v1h-1zM269 84h1v1h-1zM274 84h1v1h-1zM232 85h3v1h-3zM237 85h1v1h-1zM241 85h1v1h-1zM245 85h1v1h-1zM249 85h3v1h-3zM254 85h1v1h-1zM263 85h1v1h-1zM265 85h1v1h-1zM270 85h1v1h-1z" fill="#111" filter="url(#bl)"/>
<rect x="232" y="21" width="65.30000000000001" height="65" fill="none" stroke="#9a9a9a" stroke-width="1"/>
<path d="M232 23V86H295.3" fill="none" stroke="#555" stroke-width="1"/>
<rect x="232.7" y="43" width="20.200000000000017" height="15.5" fill="none" stroke="#31a2d6" stroke-width="2"/>
<rect x="256.2" y="47.4" width="20.19999999999999" height="17.500000000000007" fill="none" stroke="#2d3590" stroke-width="2"/>
<rect x="257.6" y="65.6" width="20.19999999999999" height="19.5" fill="none" stroke="#ec7a3a" stroke-width="2"/>
<text x="240.7" y="41.2" font-size="12.1" fill="#31a2d6" font-weight="bold" text-anchor="start" letter-spacing="0.45">2.4</text>
<text x="269.8" y="45.5" font-size="12.1" fill="#000" font-weight="bold" text-anchor="start" letter-spacing="0.45">1.2</text>
<text x="279" y="79.5" font-size="12.1" fill="#ec7a3a" font-weight="bold" text-anchor="start" letter-spacing="0.45">1.0</text>
<path d="M354 40h1v1h-1zM333 42h1v1h-1zM347 43h1v1h-1zM359 44h1v1h-1zM310 45h1v1h-1zM313 45h2v1h-2zM305 46h9v1h-9zM302 47h5v1h-5zM308 47h10v1h-10zM302 48h6v1h-6zM309 48h9v1h-9zM330 48h1v1h-1zM301 49h2v1h-2zM304 49h9v1h-9zM314 49h5v1h-5zM324 49h1v1h-1zM300 50h1v1h-1zM302 50h8v1h-8zM311 50h7v1h-7zM319 50h2v1h-2zM301 51h4v1h-4zM306 51h3v1h-3zM310 51h8v1h-8zM319 51h1v1h-1zM359 51h1v1h-1zM300 52h20v1h-20zM336 52h1v1h-1zM302 53h14v1h-14zM317 53h2v1h-2zM322 53h1v1h-1zM327 53h1v1h-1zM301 54h4v1h-4zM307 54h1v1h-1zM309 54h8v1h-8zM319 54h1v1h-1zM333 54h1v1h-1zM304 55h14v1h-14zM328 55h1v1h-1zM337 55h1v1h-1zM302 56h2v1h-2zM305 56h1v1h-1zM307 56h8v1h-8zM330 56h1v1h-1zM332 56h1v1h-1zM337 56h1v1h-1zM341 56h1v1h-1zM302 57h1v1h-1zM304 57h5v1h-5zM310 57h5v1h-5zM329 57h1v1h-1zM331 57h1v1h-1zM340 57h1v1h-1zM303 58h2v1h-2zM306 58h2v1h-2zM309 58h1v1h-1zM315 58h3v1h-3zM325 58h1v1h-1zM352 58h1v1h-1zM309 60h1v1h-1zM319 60h1v1h-1zM301 61h3v1h-3zM305 61h2v1h-2zM308 61h2v1h-2zM311 61h4v1h-4zM316 61h1v1h-1zM318 61h3v1h-3zM348 61h1v1h-1zM301 62h19v1h-19zM327 62h3v1h-3zM340 62h1v1h-1zM349 62h1v1h-1zM300 63h20v1h-20zM353 63h1v1h-1zM300 64h21v1h-21zM323 64h1v1h-1zM300 65h20v1h-20zM321 65h2v1h-2zM326 65h1v1h-1zM332 65h1v1h-1zM339 65h1v1h-1zM300 66h22v1h-22zM335 66h1v1h-1zM340 66h1v1h-1zM357 66h1v1h-1zM301 67h22v1h-22zM335 67h2v1h-2zM340 67h1v1h-1zM301 68h19v1h-19zM323 68h1v1h-1zM325 68h1v1h-1zM338 68h1v1h-1zM360 68h1v1h-1zM301 69h20v1h-20zM322 69h2v1h-2zM328 69h1v1h-1zM332 69h1v1h-1zM335 69h6v1h-6zM342 69h1v1h-1zM300 70h19v1h-19zM328 70h1v1h-1zM332 70h1v1h-1zM339 70h1v1h-1zM341 70h1v1h-1zM300 71h22v1h-22zM323 71h1v1h-1zM332 71h2v1h-2zM337 71h1v1h-1zM340 71h1v1h-1zM347 71h1v1h-1zM301 72h18v1h-18zM320 72h1v1h-1zM323 72h1v1h-1zM329 72h1v1h-1zM331 72h1v1h-1zM333 72h7v1h-7zM341 72h1v1h-1zM301 73h19v1h-19zM322 73h2v1h-2zM326 73h1v1h-1zM329 73h15v1h-15zM346 73h1v1h-1zM300 74h20v1h-20zM322 74h1v1h-1zM330 74h10v1h-10zM341 74h2v1h-2zM354 74h1v1h-1zM301 75h20v1h-20zM323 75h1v1h-1zM327 75h2v1h-2zM331 75h9v1h-9zM341 75h1v1h-1zM300 76h19v1h-19zM320 76h1v1h-1zM328 76h13v1h-13zM300 77h21v1h-21zM329 77h11v1h-11zM301 78h23v1h-23zM329 78h9v1h-9zM339 78h2v1h-2zM343 78h2v1h-2zM300 79h20v1h-20zM321 79h1v1h-1zM323 79h1v1h-1zM325 79h1v1h-1zM327 79h1v1h-1zM329 79h3v1h-3zM333 79h6v1h-6zM340 79h4v1h-4zM300 80h21v1h-21zM323 80h1v1h-1zM327 80h1v1h-1zM331 80h9v1h-9zM301 81h19v1h-19zM321 81h2v1h-2zM329 81h1v1h-1zM331 81h7v1h-7zM339 81h1v1h-1zM346 81h1v1h-1zM351 81h1v1h-1zM301 82h19v1h-19zM329 82h2v1h-2zM332 82h4v1h-4zM340 82h1v1h-1zM301 83h19v1h-19zM322 83h1v1h-1zM328 83h1v1h-1zM330 83h4v1h-4zM337 83h2v1h-2zM342 83h1v1h-1zM359 83h1v1h-1zM301 84h20v1h-20zM322 84h2v1h-2zM333 84h1v1h-1zM335 84h1v1h-1zM337 84h1v1h-1zM339 84h1v1h-1zM300 85h3v1h-3zM305 85h1v1h-1zM313 85h1v1h-1zM315 85h5v1h-5zM322 85h1v1h-1zM330 85h1v1h-1zM336 85h1v1h-1z" fill="#111" filter="url(#bl)"/>
<rect x="300" y="21" width="65.30000000000001" height="65" fill="none" stroke="#9a9a9a" stroke-width="1"/>
<path d="M300 23V86H363.3" fill="none" stroke="#555" stroke-width="1"/>
<rect x="300.7" y="44.7" width="18.80000000000001" height="15.799999999999997" fill="none" stroke="#31a2d6" stroke-width="2"/>
<rect x="323.7" y="48.8" width="19.100000000000023" height="15.900000000000006" fill="none" stroke="#2d3590" stroke-width="2"/>
<rect x="325.3" y="66.3" width="20.0" height="19.200000000000003" fill="none" stroke="#ec7a3a" stroke-width="2"/>
<text x="305.3" y="41.2" font-size="12.1" fill="#31a2d6" font-weight="bold" text-anchor="start" letter-spacing="0.45">2.8</text>
<text x="334.5" y="46.3" font-size="12.1" fill="#000" font-weight="bold" text-anchor="start" letter-spacing="0.45">0.16</text>
<text x="347" y="80.5" font-size="12.1" fill="#ec7a3a" font-weight="bold" text-anchor="start" letter-spacing="0.45">0.8</text>
<path d="M256 111h1v1h-1zM294 111h1v1h-1zM285 112h1v1h-1zM234 113h16v1h-16zM262 113h1v1h-1zM274 113h1v1h-1zM234 114h16v1h-16zM279 114h1v1h-1zM234 115h16v1h-16zM265 115h1v1h-1zM234 116h16v1h-16zM256 116h1v1h-1zM261 116h1v1h-1zM234 117h16v1h-16zM259 117h1v1h-1zM264 117h1v1h-1zM267 117h1v1h-1zM275 117h1v1h-1zM234 118h16v1h-16zM255 118h1v1h-1zM259 118h1v1h-1zM267 118h1v1h-1zM234 119h16v1h-16zM260 119h1v1h-1zM264 119h1v1h-1zM234 120h16v1h-16zM257 120h8v1h-8zM266 120h1v1h-1zM234 121h16v1h-16zM255 121h1v1h-1zM258 121h6v1h-6zM265 121h1v1h-1zM274 121h1v1h-1zM234 122h16v1h-16zM253 122h1v1h-1zM256 122h6v1h-6zM263 122h3v1h-3zM269 122h1v1h-1zM234 123h16v1h-16zM255 123h1v1h-1zM258 123h7v1h-7zM234 124h16v1h-16zM254 124h1v1h-1zM256 124h10v1h-10zM267 124h1v1h-1zM269 124h1v1h-1zM234 125h16v1h-16zM255 125h1v1h-1zM257 125h8v1h-8zM266 125h1v1h-1zM269 125h1v1h-1zM234 126h16v1h-16zM257 126h11v1h-11zM278 126h1v1h-1zM290 126h1v1h-1zM234 127h16v1h-16zM254 127h2v1h-2zM257 127h1v1h-1zM259 127h7v1h-7zM267 127h1v1h-1zM277 127h1v1h-1zM234 128h16v1h-16zM253 128h2v1h-2zM257 128h10v1h-10zM258 129h2v1h-2zM263 129h1v1h-1zM265 129h1v1h-1zM268 129h1v1h-1zM255 130h1v1h-1zM258 130h1v1h-1zM261 130h2v1h-2zM264 130h2v1h-2zM254 131h1v1h-1zM262 131h1v1h-1zM267 131h1v1h-1zM232 132h20v1h-20zM276 132h1v1h-1zM232 133h20v1h-20zM261 133h1v1h-1zM266 133h1v1h-1zM268 133h1v1h-1zM233 134h21v1h-21zM255 134h1v1h-1zM257 134h1v1h-1zM259 134h1v1h-1zM261 134h1v1h-1zM263 134h1v1h-1zM266 134h1v1h-1zM284 134h1v1h-1zM232 135h20v1h-20zM254 135h1v1h-1zM256 135h1v1h-1zM262 135h1v1h-1zM265 135h1v1h-1zM232 136h21v1h-21zM256 136h3v1h-3zM260 136h2v1h-2zM263 136h2v1h-2zM266 136h3v1h-3zM270 136h1v1h-1zM233 137h19v1h-19zM253 137h1v1h-1zM258 137h1v1h-1zM260 137h1v1h-1zM262 137h2v1h-2zM265 137h2v1h-2zM270 137h1v1h-1zM280 137h1v1h-1zM232 138h20v1h-20zM259 138h1v1h-1zM262 138h1v1h-1zM264 138h3v1h-3zM268 138h1v1h-1zM233 139h19v1h-19zM253 139h1v1h-1zM258 139h1v1h-1zM261 139h1v1h-1zM263 139h8v1h-8zM275 139h1v1h-1zM233 140h19v1h-19zM253 140h1v1h-1zM255 140h1v1h-1zM258 140h10v1h-10zM269 140h1v1h-1zM233 141h19v1h-19zM258 141h1v1h-1zM262 141h8v1h-8zM233 142h19v1h-19zM255 142h3v1h-3zM260 142h10v1h-10zM271 142h2v1h-2zM288 142h1v1h-1zM233 143h20v1h-20zM261 143h10v1h-10zM232 144h20v1h-20zM257 144h2v1h-2zM260 144h11v1h-11zM272 144h1v1h-1zM233 145h19v1h-19zM254 145h1v1h-1zM262 145h8v1h-8zM284 145h1v1h-1zM232 146h20v1h-20zM253 146h1v1h-1zM258 146h1v1h-1zM260 146h12v1h-12zM233 147h19v1h-19zM254 147h3v1h-3zM261 147h1v1h-1zM263 147h6v1h-6zM270 147h2v1h-2zM275 147h1v1h-1zM232 148h20v1h-20zM255 148h2v1h-2zM259 148h3v1h-3zM263 148h2v1h-2zM266 148h1v1h-1zM268 148h3v1h-3zM272 148h1v1h-1zM283 148h1v1h-1zM233 149h19v1h-19zM253 149h1v1h-1zM257 149h3v1h-3zM263 149h3v1h-3zM273 149h1v1h-1zM232 150h20v1h-20zM259 150h3v1h-3zM263 150h2v1h-2zM267 150h1v1h-1zM275 150h1v1h-1zM232 151h20v1h-20zM253 151h1v1h-1zM257 151h3v1h-3zM264 151h3v1h-3zM268 151h1v1h-1z" fill="#111" filter="url(#bl)"/>
<rect x="232" y="88.7" width="65.30000000000001" height="63.60000000000001" fill="none" stroke="#9a9a9a" stroke-width="1"/>
<path d="M232 90.7V152.3H295.3" fill="none" stroke="#555" stroke-width="1"/>
<rect x="232.7" y="110.4" width="19.5" height="20.799999999999983" fill="none" stroke="#31a2d6" stroke-width="2"/>
<rect x="253.6" y="117.8" width="16.799999999999983" height="15.500000000000014" fill="none" stroke="#2d3590" stroke-width="2"/>
<rect x="257.6" y="133.9" width="16.799999999999955" height="18.400000000000006" fill="none" stroke="#ec7a3a" stroke-width="2"/>
<text x="237.3" y="108.0" font-size="12.1" fill="#31a2d6" font-weight="bold" text-anchor="start" letter-spacing="0.45">33</text>
<text x="261.6" y="115.1" font-size="12.1" fill="#000" font-weight="bold" text-anchor="start" letter-spacing="0.45">1.2</text>
<text x="279.1" y="148.7" font-size="12.1" fill="#ec7a3a" font-weight="bold" text-anchor="start" letter-spacing="0.45">2.4</text>
<path d="M354 108h1v1h-1zM335 110h1v1h-1zM348 110h1v1h-1zM356 110h1v1h-1zM302 113h16v1h-16zM332 113h1v1h-1zM360 113h1v1h-1zM302 114h16v1h-16zM325 114h1v1h-1zM302 115h16v1h-16zM302 116h16v1h-16zM342 116h1v1h-1zM302 117h16v1h-16zM330 117h1v1h-1zM302 118h16v1h-16zM324 118h1v1h-1zM344 118h1v1h-1zM302 119h16v1h-16zM331 119h1v1h-1zM302 120h16v1h-16zM326 120h1v1h-1zM302 121h16v1h-16zM328 121h1v1h-1zM334 121h1v1h-1zM302 122h16v1h-16zM334 122h1v1h-1zM302 123h16v1h-16zM323 123h2v1h-2zM327 123h1v1h-1zM334 123h1v1h-1zM302 124h17v1h-17zM324 124h1v1h-1zM329 124h1v1h-1zM302 125h16v1h-16zM321 125h1v1h-1zM324 125h1v1h-1zM329 125h1v1h-1zM302 126h16v1h-16zM330 126h1v1h-1zM333 126h1v1h-1zM360 126h1v1h-1zM302 127h16v1h-16zM332 127h1v1h-1zM302 128h16v1h-16zM326 128h2v1h-2zM329 128h1v1h-1zM330 129h1v1h-1zM329 131h1v1h-1zM333 132h2v1h-2zM301 133h18v1h-18zM320 133h1v1h-1zM325 133h1v1h-1zM329 133h2v1h-2zM337 133h1v1h-1zM300 134h19v1h-19zM336 134h1v1h-1zM300 135h20v1h-20zM331 135h1v1h-1zM334 135h1v1h-1zM337 135h1v1h-1zM301 136h19v1h-19zM321 136h2v1h-2zM326 136h1v1h-1zM333 136h4v1h-4zM339 136h1v1h-1zM300 137h19v1h-19zM321 137h2v1h-2zM332 137h3v1h-3zM301 138h18v1h-18zM320 138h1v1h-1zM330 138h2v1h-2zM333 138h3v1h-3zM337 138h2v1h-2zM300 139h19v1h-19zM322 139h3v1h-3zM327 139h1v1h-1zM329 139h1v1h-1zM331 139h2v1h-2zM334 139h3v1h-3zM338 139h2v1h-2zM341 139h1v1h-1zM349 139h1v1h-1zM301 140h18v1h-18zM321 140h3v1h-3zM327 140h3v1h-3zM331 140h8v1h-8zM340 140h1v1h-1zM300 141h20v1h-20zM327 141h1v1h-1zM331 141h8v1h-8zM301 142h18v1h-18zM320 142h1v1h-1zM324 142h1v1h-1zM327 142h1v1h-1zM329 142h9v1h-9zM339 142h1v1h-1zM300 143h19v1h-19zM321 143h2v1h-2zM324 143h1v1h-1zM326 143h1v1h-1zM329 143h10v1h-10zM343 143h1v1h-1zM300 144h20v1h-20zM321 144h2v1h-2zM326 144h1v1h-1zM329 144h8v1h-8zM338 144h3v1h-3zM301 145h18v1h-18zM324 145h1v1h-1zM326 145h1v1h-1zM328 145h10v1h-10zM339 145h2v1h-2zM343 145h1v1h-1zM301 146h18v1h-18zM320 146h2v1h-2zM324 146h1v1h-1zM329 146h10v1h-10zM301 147h20v1h-20zM323 147h1v1h-1zM325 147h1v1h-1zM329 147h3v1h-3zM333 147h5v1h-5zM339 147h1v1h-1zM348 147h1v1h-1zM300 148h19v1h-19zM323 148h1v1h-1zM332 148h4v1h-4zM300 149h19v1h-19zM320 149h1v1h-1zM322 149h1v1h-1zM324 149h1v1h-1zM335 149h3v1h-3zM339 149h1v1h-1zM300 150h20v1h-20zM323 150h1v1h-1zM325 150h1v1h-1zM331 150h1v1h-1zM333 150h3v1h-3zM337 150h3v1h-3zM341 150h1v1h-1zM343 150h1v1h-1zM301 151h18v1h-18zM323 151h1v1h-1zM328 151h1v1h-1zM334 151h3v1h-3z" fill="#111" filter="url(#bl)"/>
<rect x="300" y="88.7" width="65.30000000000001" height="63.60000000000001" fill="none" stroke="#9a9a9a" stroke-width="1"/>
<path d="M300 90.7V152.3H363.3" fill="none" stroke="#555" stroke-width="1"/>
<rect x="300.5" y="110.7" width="19.0" height="20.799999999999997" fill="none" stroke="#31a2d6" stroke-width="2"/>
<rect x="320.3" y="119" width="16.69999999999999" height="14.199999999999989" fill="none" stroke="#2d3590" stroke-width="2"/>
<rect x="326.2" y="134.8" width="15.800000000000011" height="17.5" fill="none" stroke="#ec7a3a" stroke-width="2"/>
<text x="305.3" y="108.0" font-size="12.1" fill="#31a2d6" font-weight="bold" text-anchor="start" letter-spacing="0.45">33</text>
<text x="330.3" y="115.7" font-size="12.1" fill="#000" font-weight="bold" text-anchor="start" letter-spacing="0.45">0.25</text>
<text x="344.5" y="148.4" font-size="12.1" fill="#ec7a3a" font-weight="bold" text-anchor="start" letter-spacing="0.45">2.4</text>
<path d="M413 35h1v1h-1zM398 36h2v1h-2zM400 39h1v1h-1zM410 39h1v1h-1zM396 40h1v1h-1zM395 41h1v1h-1zM399 41h1v1h-1zM404 41h1v1h-1zM401 42h1v1h-1zM404 42h1v1h-1zM418 42h1v1h-1zM389 43h1v1h-1zM398 43h1v1h-1zM404 43h1v1h-1zM409 43h1v1h-1zM413 43h1v1h-1zM415 43h1v1h-1zM420 43h1v1h-1zM423 43h1v1h-1zM386 44h1v1h-1zM397 44h1v1h-1zM400 44h1v1h-1zM407 44h1v1h-1zM415 44h1v1h-1zM421 44h1v1h-1zM391 45h1v1h-1zM396 45h1v1h-1zM412 45h1v1h-1zM414 45h3v1h-3zM420 45h1v1h-1zM429 45h1v1h-1zM438 45h1v1h-1zM388 46h1v1h-1zM401 46h1v1h-1zM411 46h5v1h-5zM419 46h2v1h-2zM386 47h2v1h-2zM395 47h3v1h-3zM402 47h1v1h-1zM411 47h1v1h-1zM413 47h1v1h-1zM415 47h1v1h-1zM417 47h1v1h-1zM420 47h1v1h-1zM423 47h2v1h-2zM426 47h1v1h-1zM382 48h1v1h-1zM393 48h1v1h-1zM395 48h1v1h-1zM398 48h2v1h-2zM401 48h1v1h-1zM410 48h1v1h-1zM412 48h3v1h-3zM416 48h2v1h-2zM419 48h1v1h-1zM394 49h1v1h-1zM401 49h1v1h-1zM404 49h1v1h-1zM409 49h9v1h-9zM420 49h1v1h-1zM424 49h1v1h-1zM385 50h1v1h-1zM393 50h2v1h-2zM396 50h1v1h-1zM399 50h8v1h-8zM410 50h5v1h-5zM416 50h6v1h-6zM396 51h3v1h-3zM404 51h2v1h-2zM408 51h10v1h-10zM421 51h2v1h-2zM384 52h1v1h-1zM386 52h1v1h-1zM388 52h1v1h-1zM393 52h2v1h-2zM396 52h2v1h-2zM403 52h1v1h-1zM406 52h1v1h-1zM409 52h9v1h-9zM419 52h2v1h-2zM422 52h1v1h-1zM385 53h2v1h-2zM390 53h1v1h-1zM392 53h2v1h-2zM398 53h3v1h-3zM403 53h3v1h-3zM407 53h1v1h-1zM409 53h1v1h-1zM411 53h9v1h-9zM421 53h1v1h-1zM424 53h1v1h-1zM383 54h1v1h-1zM394 54h7v1h-7zM408 54h11v1h-11zM422 54h1v1h-1zM385 55h1v1h-1zM387 55h1v1h-1zM394 55h2v1h-2zM398 55h6v1h-6zM409 55h1v1h-1zM411 55h5v1h-5zM417 55h2v1h-2zM392 56h1v1h-1zM395 56h1v1h-1zM399 56h1v1h-1zM401 56h7v1h-7zM410 56h1v1h-1zM412 56h5v1h-5zM418 56h2v1h-2zM423 56h1v1h-1zM381 57h1v1h-1zM388 57h1v1h-1zM393 57h1v1h-1zM396 57h1v1h-1zM399 57h2v1h-2zM402 57h1v1h-1zM406 57h1v1h-1zM410 57h1v1h-1zM413 57h1v1h-1zM415 57h3v1h-3zM419 57h2v1h-2zM422 57h1v1h-1zM382 58h1v1h-1zM385 58h1v1h-1zM390 58h1v1h-1zM393 58h1v1h-1zM399 58h3v1h-3zM403 58h1v1h-1zM409 58h1v1h-1zM411 58h3v1h-3zM415 58h5v1h-5zM423 58h1v1h-1zM382 59h1v1h-1zM384 59h1v1h-1zM387 59h1v1h-1zM392 59h2v1h-2zM396 59h1v1h-1zM398 59h1v1h-1zM400 59h2v1h-2zM404 59h1v1h-1zM418 59h2v1h-2zM435 59h1v1h-1zM386 60h1v1h-1zM388 60h2v1h-2zM393 60h2v1h-2zM396 60h1v1h-1zM399 60h4v1h-4zM407 60h4v1h-4zM414 60h1v1h-1zM416 60h1v1h-1zM420 60h1v1h-1zM382 61h1v1h-1zM384 61h1v1h-1zM393 61h2v1h-2zM396 61h3v1h-3zM400 61h2v1h-2zM403 61h1v1h-1zM405 61h1v1h-1zM408 61h2v1h-2zM412 61h1v1h-1zM415 61h2v1h-2zM421 61h1v1h-1zM381 62h2v1h-2zM387 62h3v1h-3zM391 62h1v1h-1zM394 62h1v1h-1zM398 62h1v1h-1zM401 62h1v1h-1zM403 62h1v1h-1zM417 62h1v1h-1zM422 62h1v1h-1zM382 63h5v1h-5zM388 63h1v1h-1zM390 63h8v1h-8zM399 63h5v1h-5zM406 63h1v1h-1zM420 63h1v1h-1zM381 64h26v1h-26zM380 65h25v1h-25zM414 65h1v1h-1zM418 65h2v1h-2zM423 65h1v1h-1zM425 65h1v1h-1zM380 66h26v1h-26zM409 66h1v1h-1zM411 66h1v1h-1zM414 66h1v1h-1zM419 66h2v1h-2zM422 66h2v1h-2zM426 66h1v1h-1zM380 67h1v1h-1zM382 67h23v1h-23zM406 67h1v1h-1zM408 67h2v1h-2zM411 67h12v1h-12zM424 67h3v1h-3zM430 67h1v1h-1zM382 68h24v1h-24zM408 68h17v1h-17zM380 69h26v1h-26zM408 69h18v1h-18zM380 70h26v1h-26zM407 70h18v1h-18zM426 70h2v1h-2zM381 71h23v1h-23zM405 71h22v1h-22zM381 72h24v1h-24zM407 72h19v1h-19zM382 73h23v1h-23zM406 73h21v1h-21zM380 74h25v1h-25zM407 74h21v1h-21zM380 75h25v1h-25zM406 75h19v1h-19zM380 76h45v1h-45zM426 76h1v1h-1zM380 77h25v1h-25zM406 77h20v1h-20zM382 78h24v1h-24zM407 78h19v1h-19zM381 79h25v1h-25zM407 79h20v1h-20zM380 80h24v1h-24zM406 80h2v1h-2zM409 80h18v1h-18zM380 81h1v1h-1zM382 81h43v1h-43zM380 82h26v1h-26zM408 82h19v1h-19zM381 83h25v1h-25zM408 83h20v1h-20zM380 84h24v1h-24zM408 84h4v1h-4zM415 84h1v1h-1zM417 84h1v1h-1zM419 84h1v1h-1zM422 84h2v1h-2zM380 85h24v1h-24zM407 85h1v1h-1zM424 85h2v1h-2zM380 86h3v1h-3zM384 86h7v1h-7zM392 86h4v1h-4zM398 86h2v1h-2zM401 86h4v1h-4zM407 86h1v1h-1z" fill="#111" filter="url(#bl)"/>
<rect x="380" y="21.5" width="64.60000000000002" height="65.8" fill="none" stroke="#9a9a9a" stroke-width="1"/>
<path d="M380 23.5V87.3H442.6" fill="none" stroke="#555" stroke-width="1"/>
<rect x="380.6" y="40.6" width="25.19999999999999" height="20.9" fill="none" stroke="#8a8a8a" stroke-width="2"/>
<rect x="407.1" y="45.2" width="19.0" height="17.0" fill="none" stroke="#8a8a8a" stroke-width="2"/>
<rect x="405.8" y="64.1" width="22.899999999999977" height="20.30000000000001" fill="none" stroke="#933a9a" stroke-width="2"/>
<text x="384.5" y="38" font-size="12.1" fill="#000" font-weight="bold" text-anchor="start" letter-spacing="0.45">0.8</text>
<text x="413.7" y="41.3" font-size="12.1" fill="#000" font-weight="bold" text-anchor="start" letter-spacing="0.45">2.6</text>
<text x="430" y="82.6" font-size="12.1" fill="#933a9a" font-weight="bold" text-anchor="start" letter-spacing="0.45">24</text>
<path d="M457 38h1v1h-1zM457 39h2v1h-2zM488 39h1v1h-1zM491 39h1v1h-1zM477 40h1v1h-1zM486 40h1v1h-1zM461 41h2v1h-2zM476 41h1v1h-1zM481 41h1v1h-1zM483 41h1v1h-1zM506 41h1v1h-1zM460 42h1v1h-1zM462 42h1v1h-1zM464 42h2v1h-2zM468 42h2v1h-2zM479 42h1v1h-1zM484 42h1v1h-1zM454 43h1v1h-1zM456 43h3v1h-3zM460 43h1v1h-1zM465 43h1v1h-1zM471 43h2v1h-2zM475 43h1v1h-1zM478 43h2v1h-2zM481 43h1v1h-1zM483 43h1v1h-1zM453 44h1v1h-1zM456 44h1v1h-1zM458 44h1v1h-1zM460 44h1v1h-1zM466 44h2v1h-2zM478 44h1v1h-1zM480 44h1v1h-1zM485 44h2v1h-2zM488 44h1v1h-1zM457 45h1v1h-1zM461 45h1v1h-1zM464 45h1v1h-1zM467 45h1v1h-1zM476 45h1v1h-1zM481 45h2v1h-2zM485 45h1v1h-1zM448 46h1v1h-1zM453 46h1v1h-1zM457 46h1v1h-1zM459 46h1v1h-1zM463 46h1v1h-1zM467 46h2v1h-2zM476 46h1v1h-1zM478 46h5v1h-5zM484 46h2v1h-2zM491 46h1v1h-1zM450 47h1v1h-1zM452 47h2v1h-2zM462 47h1v1h-1zM464 47h1v1h-1zM466 47h1v1h-1zM469 47h2v1h-2zM475 47h1v1h-1zM478 47h2v1h-2zM482 47h2v1h-2zM487 47h2v1h-2zM454 48h1v1h-1zM456 48h3v1h-3zM460 48h1v1h-1zM462 48h3v1h-3zM468 48h2v1h-2zM476 48h2v1h-2zM479 48h4v1h-4zM485 48h1v1h-1zM495 48h1v1h-1zM451 49h1v1h-1zM453 49h1v1h-1zM455 49h1v1h-1zM459 49h1v1h-1zM461 49h1v1h-1zM464 49h3v1h-3zM472 49h5v1h-5zM478 49h6v1h-6zM490 49h1v1h-1zM453 50h1v1h-1zM457 50h2v1h-2zM460 50h1v1h-1zM462 50h2v1h-2zM468 50h1v1h-1zM470 50h2v1h-2zM474 50h3v1h-3zM478 50h8v1h-8zM487 50h1v1h-1zM450 51h1v1h-1zM452 51h1v1h-1zM455 51h10v1h-10zM466 51h1v1h-1zM470 51h1v1h-1zM472 51h2v1h-2zM475 51h10v1h-10zM486 51h2v1h-2zM507 51h1v1h-1zM449 52h1v1h-1zM455 52h1v1h-1zM457 52h1v1h-1zM460 52h2v1h-2zM463 52h1v1h-1zM465 52h2v1h-2zM468 52h1v1h-1zM472 52h1v1h-1zM475 52h10v1h-10zM486 52h2v1h-2zM451 53h1v1h-1zM453 53h5v1h-5zM460 53h2v1h-2zM466 53h1v1h-1zM473 53h3v1h-3zM477 53h9v1h-9zM487 53h1v1h-1zM489 53h1v1h-1zM456 54h1v1h-1zM458 54h3v1h-3zM465 54h3v1h-3zM469 54h1v1h-1zM472 54h1v1h-1zM475 54h12v1h-12zM491 54h1v1h-1zM496 54h1v1h-1zM455 55h2v1h-2zM460 55h1v1h-1zM462 55h2v1h-2zM465 55h2v1h-2zM469 55h1v1h-1zM471 55h1v1h-1zM473 55h1v1h-1zM475 55h3v1h-3zM479 55h7v1h-7zM488 55h3v1h-3zM448 56h3v1h-3zM454 56h1v1h-1zM457 56h2v1h-2zM460 56h1v1h-1zM462 56h3v1h-3zM466 56h4v1h-4zM472 56h1v1h-1zM476 56h3v1h-3zM480 56h6v1h-6zM487 56h1v1h-1zM452 57h1v1h-1zM457 57h1v1h-1zM459 57h1v1h-1zM463 57h4v1h-4zM468 57h1v1h-1zM470 57h2v1h-2zM476 57h7v1h-7zM484 57h2v1h-2zM488 57h1v1h-1zM499 57h1v1h-1zM451 58h1v1h-1zM456 58h3v1h-3zM463 58h2v1h-2zM473 58h2v1h-2zM476 58h5v1h-5zM482 58h4v1h-4zM490 58h1v1h-1zM448 59h1v1h-1zM452 59h1v1h-1zM458 59h2v1h-2zM461 59h1v1h-1zM463 59h1v1h-1zM466 59h3v1h-3zM475 59h2v1h-2zM478 59h4v1h-4zM483 59h1v1h-1zM485 59h1v1h-1zM454 60h3v1h-3zM461 60h1v1h-1zM472 60h1v1h-1zM475 60h1v1h-1zM478 60h2v1h-2zM481 60h1v1h-1zM484 60h2v1h-2zM488 60h1v1h-1zM457 61h1v1h-1zM459 61h1v1h-1zM467 61h1v1h-1zM476 61h2v1h-2zM481 61h1v1h-1zM484 61h2v1h-2zM487 61h1v1h-1zM448 62h1v1h-1zM458 62h1v1h-1zM462 62h1v1h-1zM464 62h1v1h-1zM478 62h1v1h-1zM480 62h1v1h-1zM484 62h1v1h-1zM486 62h1v1h-1zM447 63h1v1h-1zM453 63h1v1h-1zM455 63h4v1h-4zM461 63h1v1h-1zM463 63h1v1h-1zM465 63h3v1h-3zM469 63h2v1h-2zM472 63h1v1h-1zM478 63h1v1h-1zM480 63h3v1h-3zM485 63h1v1h-1zM447 64h3v1h-3zM451 64h8v1h-8zM460 64h10v1h-10zM474 64h1v1h-1zM447 65h24v1h-24zM478 65h1v1h-1zM481 65h2v1h-2zM485 65h1v1h-1zM447 66h23v1h-23zM475 66h1v1h-1zM477 66h3v1h-3zM483 66h5v1h-5zM490 66h1v1h-1zM448 67h23v1h-23zM475 67h2v1h-2zM478 67h12v1h-12zM493 67h1v1h-1zM448 68h23v1h-23zM473 68h1v1h-1zM475 68h16v1h-16zM492 68h1v1h-1zM447 69h23v1h-23zM474 69h17v1h-17zM492 69h1v1h-1zM447 70h24v1h-24zM474 70h16v1h-16zM493 70h1v1h-1zM447 71h23v1h-23zM474 71h18v1h-18zM448 72h23v1h-23zM474 72h17v1h-17zM492 72h2v1h-2zM447 73h24v1h-24zM473 73h17v1h-17zM491 73h1v1h-1zM493 73h1v1h-1zM447 74h25v1h-25zM474 74h17v1h-17zM493 74h1v1h-1zM495 74h1v1h-1zM447 75h24v1h-24zM473 75h17v1h-17zM447 76h24v1h-24zM473 76h18v1h-18zM492 76h1v1h-1zM509 76h1v1h-1zM447 77h24v1h-24zM475 77h16v1h-16zM447 78h25v1h-25zM475 78h18v1h-18zM448 79h23v1h-23zM474 79h20v1h-20zM447 80h24v1h-24zM474 80h18v1h-18zM447 81h24v1h-24zM475 81h19v1h-19zM447 82h24v1h-24zM474 82h17v1h-17zM492 82h2v1h-2zM448 83h23v1h-23zM474 83h19v1h-19zM447 84h25v1h-25zM475 84h1v1h-1zM478 84h2v1h-2zM483 84h3v1h-3zM487 84h2v1h-2zM490 84h1v1h-1zM448 85h24v1h-24zM475 85h1v1h-1zM489 85h1v1h-1zM448 86h3v1h-3zM452 86h1v1h-1zM455 86h4v1h-4zM460 86h2v1h-2zM464 86h1v1h-1zM466 86h4v1h-4z" fill="#111" filter="url(#bl)"/>
<rect x="446.5" y="21.5" width="65.0" height="65.8" fill="none" stroke="#9a9a9a" stroke-width="1"/>
<path d="M446.5 23.5V87.3H509.5" fill="none" stroke="#555" stroke-width="1"/>
<rect x="447" y="40.6" width="24.80000000000001" height="21.6" fill="none" stroke="#8a8a8a" stroke-width="2"/>
<rect x="472.5" y="45.2" width="19.5" height="17.599999999999994" fill="none" stroke="#8a8a8a" stroke-width="2"/>
<rect x="471.8" y="64.1" width="23.5" height="20.900000000000006" fill="none" stroke="#933a9a" stroke-width="2"/>
<text x="451.5" y="38" font-size="12.1" fill="#000" font-weight="bold" text-anchor="start" letter-spacing="0.45">0.9</text>
<text x="478.2" y="42.2" font-size="12.1" fill="#000" font-weight="bold" text-anchor="start" letter-spacing="0.45">2.4</text>
<text x="496.5" y="82.6" font-size="12.1" fill="#933a9a" font-weight="bold" text-anchor="start" letter-spacing="0.45">21</text>
<path d="M390 93h1v1h-1zM388 94h1v1h-1zM384 97h1v1h-1zM394 97h1v1h-1zM391 98h1v1h-1zM394 98h1v1h-1zM391 99h1v1h-1zM387 100h1v1h-1zM390 100h1v1h-1zM395 100h1v1h-1zM387 102h2v1h-2zM391 102h1v1h-1zM394 102h1v1h-1zM397 102h2v1h-2zM416 102h1v1h-1zM383 103h2v1h-2zM389 103h2v1h-2zM392 103h1v1h-1zM394 103h2v1h-2zM398 103h1v1h-1zM400 103h1v1h-1zM416 103h1v1h-1zM418 103h1v1h-1zM425 103h1v1h-1zM382 104h3v1h-3zM386 104h3v1h-3zM391 104h2v1h-2zM395 104h2v1h-2zM398 104h1v1h-1zM404 104h1v1h-1zM408 104h1v1h-1zM384 105h13v1h-13zM398 105h1v1h-1zM420 105h1v1h-1zM428 105h1v1h-1zM382 106h1v1h-1zM384 106h1v1h-1zM386 106h1v1h-1zM388 106h2v1h-2zM391 106h5v1h-5zM398 106h2v1h-2zM401 106h2v1h-2zM424 106h2v1h-2zM383 107h2v1h-2zM386 107h4v1h-4zM391 107h7v1h-7zM399 107h2v1h-2zM402 107h2v1h-2zM408 107h1v1h-1zM380 108h18v1h-18zM399 108h2v1h-2zM402 108h1v1h-1zM404 108h1v1h-1zM406 108h1v1h-1zM410 108h1v1h-1zM415 108h1v1h-1zM422 108h1v1h-1zM382 109h2v1h-2zM386 109h1v1h-1zM388 109h14v1h-14zM408 109h1v1h-1zM412 109h1v1h-1zM426 109h1v1h-1zM381 110h1v1h-1zM384 110h15v1h-15zM401 110h1v1h-1zM404 110h1v1h-1zM411 110h1v1h-1zM414 110h1v1h-1zM425 110h1v1h-1zM383 111h1v1h-1zM385 111h3v1h-3zM389 111h2v1h-2zM392 111h6v1h-6zM400 111h1v1h-1zM402 111h2v1h-2zM408 111h1v1h-1zM413 111h1v1h-1zM381 112h4v1h-4zM386 112h5v1h-5zM393 112h3v1h-3zM397 112h1v1h-1zM399 112h1v1h-1zM401 112h2v1h-2zM412 112h1v1h-1zM416 112h2v1h-2zM421 112h1v1h-1zM428 112h1v1h-1zM384 113h1v1h-1zM386 113h1v1h-1zM388 113h3v1h-3zM392 113h5v1h-5zM398 113h1v1h-1zM400 113h2v1h-2zM404 113h3v1h-3zM409 113h2v1h-2zM413 113h1v1h-1zM419 113h1v1h-1zM387 114h1v1h-1zM389 114h1v1h-1zM391 114h1v1h-1zM393 114h5v1h-5zM400 114h1v1h-1zM403 114h1v1h-1zM406 114h1v1h-1zM409 114h1v1h-1zM413 114h3v1h-3zM418 114h1v1h-1zM428 114h1v1h-1zM382 115h1v1h-1zM387 115h1v1h-1zM389 115h1v1h-1zM392 115h1v1h-1zM394 115h3v1h-3zM400 115h1v1h-1zM406 115h1v1h-1zM415 115h1v1h-1zM418 115h1v1h-1zM426 115h1v1h-1zM383 116h5v1h-5zM390 116h3v1h-3zM396 116h1v1h-1zM398 116h1v1h-1zM402 116h1v1h-1zM405 116h1v1h-1zM412 116h2v1h-2zM416 116h2v1h-2zM421 116h1v1h-1zM386 117h4v1h-4zM391 117h1v1h-1zM394 117h3v1h-3zM398 117h1v1h-1zM405 117h1v1h-1zM407 117h1v1h-1zM415 117h1v1h-1zM382 118h1v1h-1zM386 118h1v1h-1zM388 118h1v1h-1zM392 118h2v1h-2zM396 118h1v1h-1zM398 118h1v1h-1zM400 118h1v1h-1zM402 118h2v1h-2zM409 118h2v1h-2zM415 118h1v1h-1zM417 118h1v1h-1zM425 118h1v1h-1zM388 119h1v1h-1zM390 119h2v1h-2zM394 119h1v1h-1zM397 119h1v1h-1zM399 119h1v1h-1zM403 119h2v1h-2zM408 119h1v1h-1zM411 119h1v1h-1zM414 119h1v1h-1zM427 119h2v1h-2zM380 120h1v1h-1zM382 120h1v1h-1zM387 120h1v1h-1zM391 120h1v1h-1zM397 120h1v1h-1zM404 120h1v1h-1zM407 120h2v1h-2zM412 120h3v1h-3zM418 120h1v1h-1zM422 120h1v1h-1zM425 120h1v1h-1zM388 121h2v1h-2zM392 121h2v1h-2zM404 121h1v1h-1zM406 121h1v1h-1zM409 121h1v1h-1zM413 121h2v1h-2zM418 121h1v1h-1zM420 121h2v1h-2zM424 121h1v1h-1zM385 122h1v1h-1zM395 122h2v1h-2zM400 122h1v1h-1zM408 122h1v1h-1zM410 122h1v1h-1zM413 122h1v1h-1zM415 122h1v1h-1zM417 122h1v1h-1zM421 122h1v1h-1zM423 122h2v1h-2zM381 123h1v1h-1zM391 123h1v1h-1zM398 123h1v1h-1zM401 123h2v1h-2zM405 123h2v1h-2zM413 123h2v1h-2zM421 123h1v1h-1zM386 124h1v1h-1zM388 124h2v1h-2zM397 124h1v1h-1zM408 124h1v1h-1zM411 124h1v1h-1zM413 124h2v1h-2zM420 124h1v1h-1zM424 124h1v1h-1zM382 125h3v1h-3zM389 125h1v1h-1zM399 125h1v1h-1zM402 125h1v1h-1zM405 125h3v1h-3zM409 125h3v1h-3zM416 125h2v1h-2zM419 125h1v1h-1zM384 126h1v1h-1zM392 126h1v1h-1zM398 126h1v1h-1zM381 127h1v1h-1zM383 127h1v1h-1zM387 127h1v1h-1zM392 127h1v1h-1zM394 127h1v1h-1zM405 127h1v1h-1zM415 127h1v1h-1zM387 128h1v1h-1zM399 128h1v1h-1zM401 128h2v1h-2zM413 128h1v1h-1zM417 128h2v1h-2zM422 128h1v1h-1zM385 130h1v1h-1zM387 130h1v1h-1zM390 130h1v1h-1zM394 130h1v1h-1zM398 130h1v1h-1zM419 130h1v1h-1zM380 131h2v1h-2zM383 131h2v1h-2zM386 131h4v1h-4zM391 131h3v1h-3zM397 131h2v1h-2zM400 131h1v1h-1zM414 131h1v1h-1zM421 131h1v1h-1zM381 132h21v1h-21zM414 132h2v1h-2zM419 132h1v1h-1zM423 132h1v1h-1zM425 132h2v1h-2zM381 133h22v1h-22zM405 133h2v1h-2zM408 133h3v1h-3zM412 133h3v1h-3zM416 133h1v1h-1zM418 133h2v1h-2zM421 133h2v1h-2zM424 133h3v1h-3zM380 134h20v1h-20zM402 134h1v1h-1zM404 134h23v1h-23zM382 135h18v1h-18zM405 135h22v1h-22zM430 135h2v1h-2zM380 136h22v1h-22zM406 136h21v1h-21zM380 137h22v1h-22zM403 137h2v1h-2zM406 137h20v1h-20zM427 137h1v1h-1zM380 138h22v1h-22zM403 138h1v1h-1zM405 138h22v1h-22zM380 139h22v1h-22zM406 139h21v1h-21zM381 140h20v1h-20zM402 140h1v1h-1zM405 140h22v1h-22zM380 141h22v1h-22zM404 141h1v1h-1zM406 141h21v1h-21zM380 142h20v1h-20zM401 142h1v1h-1zM406 142h21v1h-21zM380 143h1v1h-1zM382 143h19v1h-19zM402 143h1v1h-1zM404 143h23v1h-23zM380 144h22v1h-22zM403 144h23v1h-23zM435 144h1v1h-1zM380 145h22v1h-22zM403 145h25v1h-25zM380 146h21v1h-21zM403 146h1v1h-1zM406 146h21v1h-21zM380 147h23v1h-23zM405 147h23v1h-23zM441 147h1v1h-1zM381 148h19v1h-19zM403 148h24v1h-24zM382 149h22v1h-22zM406 149h22v1h-22zM380 150h22v1h-22zM404 150h23v1h-23zM380 151h23v1h-23zM404 151h1v1h-1zM406 151h1v1h-1zM409 151h1v1h-1zM411 151h1v1h-1zM414 151h1v1h-1zM416 151h4v1h-4zM421 151h1v1h-1zM423 151h1v1h-1zM382 152h1v1h-1zM384 152h3v1h-3zM388 152h1v1h-1zM390 152h1v1h-1zM392 152h1v1h-1zM394 152h6v1h-6zM404 152h2v1h-2zM408 152h1v1h-1zM412 152h1v1h-1zM414 152h2v1h-2z" fill="#111" filter="url(#bl)"/>
<rect x="380" y="89.4" width="64.60000000000002" height="63.79999999999998" fill="none" stroke="#9a9a9a" stroke-width="1"/>
<path d="M380 91.4V153.2H442.6" fill="none" stroke="#555" stroke-width="1"/>
<rect x="381" y="102" width="24.899999999999977" height="27.5" fill="none" stroke="#8a8a8a" stroke-width="2"/>
<rect x="405.9" y="102" width="23.600000000000023" height="27.5" fill="none" stroke="#8a8a8a" stroke-width="2"/>
<rect x="401.9" y="130.1" width="29.5" height="21.0" fill="none" stroke="#933a9a" stroke-width="2"/>
<text x="383.7" y="99.6" font-size="12.1" fill="#000" font-weight="bold" text-anchor="start" letter-spacing="0.45">2.2</text>
<text x="408.7" y="99.6" font-size="12.1" fill="#000" font-weight="bold" text-anchor="start" letter-spacing="0.45">1.0</text>
<text x="432.1" y="149.1" font-size="12.1" fill="#933a9a" font-weight="bold" text-anchor="start" letter-spacing="0.45">62</text>
<path d="M451 94h1v1h-1zM458 95h1v1h-1zM458 97h1v1h-1zM450 98h1v1h-1zM450 100h1v1h-1zM454 100h1v1h-1zM459 100h1v1h-1zM461 100h1v1h-1zM447 101h1v1h-1zM452 101h1v1h-1zM455 101h2v1h-2zM463 101h1v1h-1zM453 102h1v1h-1zM455 102h1v1h-1zM459 102h3v1h-3zM463 102h1v1h-1zM467 102h1v1h-1zM479 102h1v1h-1zM481 102h1v1h-1zM492 102h1v1h-1zM448 103h1v1h-1zM451 103h1v1h-1zM454 103h2v1h-2zM457 103h3v1h-3zM465 103h1v1h-1zM470 103h1v1h-1zM475 103h1v1h-1zM479 103h1v1h-1zM482 103h1v1h-1zM487 103h1v1h-1zM494 103h1v1h-1zM449 104h1v1h-1zM451 104h1v1h-1zM453 104h1v1h-1zM456 104h1v1h-1zM459 104h3v1h-3zM463 104h2v1h-2zM467 104h1v1h-1zM469 104h1v1h-1zM474 104h1v1h-1zM476 104h1v1h-1zM452 105h1v1h-1zM455 105h7v1h-7zM467 105h1v1h-1zM472 105h1v1h-1zM480 105h1v1h-1zM487 105h1v1h-1zM494 105h1v1h-1zM449 106h5v1h-5zM456 106h5v1h-5zM462 106h1v1h-1zM465 106h3v1h-3zM469 106h3v1h-3zM476 106h1v1h-1zM484 106h1v1h-1zM486 106h1v1h-1zM494 106h1v1h-1zM449 107h2v1h-2zM453 107h10v1h-10zM464 107h2v1h-2zM467 107h1v1h-1zM473 107h1v1h-1zM483 107h1v1h-1zM450 108h2v1h-2zM453 108h3v1h-3zM458 108h4v1h-4zM463 108h1v1h-1zM465 108h1v1h-1zM470 108h3v1h-3zM474 108h2v1h-2zM477 108h1v1h-1zM486 108h1v1h-1zM488 108h1v1h-1zM447 109h2v1h-2zM450 109h2v1h-2zM454 109h9v1h-9zM464 109h4v1h-4zM470 109h1v1h-1zM476 109h2v1h-2zM447 110h1v1h-1zM449 110h2v1h-2zM453 110h8v1h-8zM462 110h3v1h-3zM467 110h4v1h-4zM473 110h2v1h-2zM494 110h1v1h-1zM448 111h2v1h-2zM453 111h12v1h-12zM466 111h1v1h-1zM470 111h1v1h-1zM473 111h1v1h-1zM478 111h1v1h-1zM483 111h1v1h-1zM490 111h1v1h-1zM447 112h3v1h-3zM453 112h4v1h-4zM458 112h3v1h-3zM463 112h4v1h-4zM471 112h1v1h-1zM473 112h2v1h-2zM476 112h1v1h-1zM481 112h1v1h-1zM483 112h1v1h-1zM488 112h2v1h-2zM448 113h4v1h-4zM455 113h1v1h-1zM459 113h1v1h-1zM461 113h5v1h-5zM467 113h1v1h-1zM470 113h1v1h-1zM473 113h1v1h-1zM477 113h1v1h-1zM479 113h1v1h-1zM481 113h1v1h-1zM485 113h2v1h-2zM489 113h2v1h-2zM451 114h1v1h-1zM455 114h1v1h-1zM457 114h2v1h-2zM462 114h2v1h-2zM466 114h1v1h-1zM470 114h2v1h-2zM473 114h1v1h-1zM476 114h1v1h-1zM479 114h2v1h-2zM482 114h2v1h-2zM486 114h1v1h-1zM448 115h1v1h-1zM451 115h1v1h-1zM453 115h2v1h-2zM456 115h3v1h-3zM462 115h2v1h-2zM465 115h2v1h-2zM468 115h1v1h-1zM474 115h2v1h-2zM477 115h1v1h-1zM480 115h4v1h-4zM449 116h1v1h-1zM455 116h2v1h-2zM458 116h2v1h-2zM462 116h1v1h-1zM468 116h1v1h-1zM470 116h1v1h-1zM473 116h1v1h-1zM480 116h1v1h-1zM483 116h2v1h-2zM487 116h2v1h-2zM452 117h2v1h-2zM455 117h3v1h-3zM463 117h1v1h-1zM470 117h1v1h-1zM472 117h2v1h-2zM478 117h3v1h-3zM482 117h1v1h-1zM487 117h1v1h-1zM489 117h1v1h-1zM504 117h1v1h-1zM448 118h2v1h-2zM453 118h1v1h-1zM456 118h2v1h-2zM460 118h2v1h-2zM463 118h2v1h-2zM466 118h2v1h-2zM474 118h1v1h-1zM476 118h1v1h-1zM478 118h1v1h-1zM481 118h1v1h-1zM488 118h4v1h-4zM447 119h1v1h-1zM451 119h1v1h-1zM460 119h3v1h-3zM464 119h1v1h-1zM467 119h1v1h-1zM469 119h1v1h-1zM476 119h1v1h-1zM478 119h2v1h-2zM485 119h1v1h-1zM494 119h1v1h-1zM455 120h3v1h-3zM461 120h1v1h-1zM469 120h2v1h-2zM475 120h1v1h-1zM483 120h3v1h-3zM488 120h1v1h-1zM490 120h1v1h-1zM492 120h1v1h-1zM448 121h1v1h-1zM451 121h1v1h-1zM455 121h3v1h-3zM459 121h2v1h-2zM462 121h1v1h-1zM464 121h1v1h-1zM466 121h2v1h-2zM473 121h2v1h-2zM477 121h1v1h-1zM482 121h1v1h-1zM484 121h1v1h-1zM490 121h2v1h-2zM449 122h1v1h-1zM451 122h1v1h-1zM459 122h2v1h-2zM464 122h3v1h-3zM473 122h1v1h-1zM475 122h1v1h-1zM477 122h1v1h-1zM481 122h1v1h-1zM484 122h1v1h-1zM488 122h1v1h-1zM447 123h1v1h-1zM449 123h3v1h-3zM454 123h1v1h-1zM458 123h1v1h-1zM465 123h1v1h-1zM474 123h1v1h-1zM480 123h2v1h-2zM450 124h2v1h-2zM453 124h1v1h-1zM458 124h1v1h-1zM461 124h1v1h-1zM463 124h1v1h-1zM465 124h1v1h-1zM467 124h1v1h-1zM480 124h3v1h-3zM486 124h1v1h-1zM489 124h1v1h-1zM449 125h1v1h-1zM451 125h1v1h-1zM473 125h1v1h-1zM475 125h1v1h-1zM477 125h1v1h-1zM485 125h1v1h-1zM487 125h1v1h-1zM460 126h1v1h-1zM509 126h1v1h-1zM451 127h1v1h-1zM453 127h1v1h-1zM455 127h3v1h-3zM459 127h1v1h-1zM461 127h1v1h-1zM465 127h1v1h-1zM467 127h1v1h-1zM480 127h1v1h-1zM483 127h1v1h-1zM447 128h2v1h-2zM450 128h1v1h-1zM453 128h3v1h-3zM458 128h1v1h-1zM464 128h6v1h-6zM483 128h1v1h-1zM447 129h23v1h-23zM475 129h1v1h-1zM488 129h1v1h-1zM448 130h21v1h-21zM473 130h1v1h-1zM480 130h3v1h-3zM484 130h1v1h-1zM486 130h1v1h-1zM488 130h2v1h-2zM491 130h1v1h-1zM447 131h23v1h-23zM473 131h2v1h-2zM476 131h17v1h-17zM494 131h1v1h-1zM448 132h21v1h-21zM471 132h1v1h-1zM473 132h21v1h-21zM447 133h23v1h-23zM471 133h1v1h-1zM473 133h21v1h-21zM447 134h22v1h-22zM472 134h22v1h-22zM447 135h24v1h-24zM473 135h21v1h-21zM448 136h22v1h-22zM471 136h24v1h-24zM506 136h1v1h-1zM448 137h22v1h-22zM472 137h23v1h-23zM447 138h23v1h-23zM472 138h21v1h-21zM494 138h1v1h-1zM448 139h22v1h-22zM472 139h1v1h-1zM474 139h20v1h-20zM448 140h46v1h-46zM447 141h22v1h-22zM470 141h25v1h-25zM509 141h1v1h-1zM447 142h22v1h-22zM470 142h2v1h-2zM473 142h23v1h-23zM447 143h23v1h-23zM472 143h22v1h-22zM447 144h24v1h-24zM473 144h22v1h-22zM508 144h1v1h-1zM448 145h21v1h-21zM470 145h1v1h-1zM472 145h22v1h-22zM495 145h1v1h-1zM447 146h22v1h-22zM471 146h23v1h-23zM504 146h1v1h-1zM448 147h23v1h-23zM472 147h23v1h-23zM447 148h23v1h-23zM472 148h22v1h-22zM448 149h25v1h-25zM474 149h7v1h-7zM482 149h13v1h-13zM447 150h24v1h-24zM472 150h4v1h-4zM478 150h2v1h-2zM481 150h1v1h-1zM484 150h1v1h-1zM489 150h1v1h-1zM491 150h1v1h-1zM493 150h1v1h-1zM447 151h25v1h-25zM477 151h1v1h-1zM504 151h1v1h-1zM447 152h3v1h-3zM451 152h3v1h-3zM455 152h5v1h-5zM463 152h1v1h-1zM466 152h2v1h-2zM469 152h1v1h-1z" fill="#111" filter="url(#bl)"/>
<rect x="446.5" y="89.4" width="65.0" height="63.79999999999998" fill="none" stroke="#9a9a9a" stroke-width="1"/>
<path d="M446.5 91.4V153.2H509.5" fill="none" stroke="#555" stroke-width="1"/>
<rect x="446.6" y="101.3" width="24.599999999999966" height="25.60000000000001" fill="none" stroke="#8a8a8a" stroke-width="2"/>
<rect x="471.2" y="101.3" width="24.30000000000001" height="25.60000000000001" fill="none" stroke="#8a8a8a" stroke-width="2"/>
<rect x="469.9" y="127.5" width="28.80000000000001" height="23.599999999999994" fill="none" stroke="#933a9a" stroke-width="2"/>
<text x="450.7" y="99.6" font-size="12.1" fill="#000" font-weight="bold" text-anchor="start" letter-spacing="0.45">2.3</text>
<text x="476.5" y="99.6" font-size="12.1" fill="#000" font-weight="bold" text-anchor="start" letter-spacing="0.45">1.0</text>
<text x="499.4" y="149.1" font-size="12.1" fill="#933a9a" font-weight="bold" text-anchor="start" letter-spacing="0.45">64</text>
<text x="3.2" y="182.7" font-size="11.8" fill="#000" font-weight="bold" text-anchor="start">B</text>
<text x="27.1" y="245.2" font-size="12.5" fill="#000" font-weight="bold" text-anchor="middle">Bone</text>
<text x="27.1" y="260.6" font-size="12.5" fill="#000" font-weight="bold" text-anchor="middle">marrow</text>
<text x="26.8" y="322.8" font-size="12.5" fill="#000" font-weight="bold" text-anchor="middle">Spleen</text>
<text x="68" y="192.3" font-size="9.2" fill="#2f9150" font-weight="bold" text-anchor="start">Neutrophils</text>
<text x="131" y="192.3" font-size="9.2" fill="#d4283c" font-weight="bold" text-anchor="start">Eosinophils</text>
<text x="192.5" y="192.3" font-size="9.2" fill="#d9288f" font-weight="bold" text-anchor="start">Monocytes</text>
<text x="248.8" y="192.3" font-size="9.2" fill="#ec7a3a" font-weight="bold" text-anchor="start">NK cells</text>
<text x="298.8" y="192.3" font-size="9.2" fill="#2d3590" font-weight="bold" text-anchor="start">NKT cells</text>
<text x="368.8" y="192.3" font-size="9.2" fill="#31a2d6" font-weight="bold" text-anchor="start">T cells</text>
<text x="423.8" y="192.3" font-size="9.2" fill="#933a9a" font-weight="bold" text-anchor="start">B cells</text>
<text x="480.5" y="192.3" font-size="9.2" fill="#8c8c8c" font-weight="bold" text-anchor="start">DCs</text>
<line x1="71.8" y1="201.5" x2="71.8" y2="273" stroke="#000" stroke-width="2"/>
<line x1="69.3" y1="272" x2="109.2" y2="272" stroke="#000" stroke-width="2"/>
<line x1="68.8" y1="201.5" x2="71.8" y2="201.5" stroke="#000" stroke-width="1.2"/>
<line x1="68.8" y1="219.125" x2="71.8" y2="219.125" stroke="#000" stroke-width="1.2"/>
<line x1="68.8" y1="236.75" x2="71.8" y2="236.75" stroke="#000" stroke-width="1.2"/>
<line x1="68.8" y1="254.375" x2="71.8" y2="254.375" stroke="#000" stroke-width="1.2"/>
<line x1="68.8" y1="272.0" x2="71.8" y2="272.0" stroke="#000" stroke-width="1.2"/>
<text x="67.8" y="204.5" font-size="8.5" fill="#000" font-weight="bold" text-anchor="end">16</text>
<text x="67.8" y="275" font-size="8.5" fill="#000" font-weight="bold" text-anchor="end">0</text>
<line x1="83.1" y1="203.6" x2="83.1" y2="212.5" stroke="#000" stroke-width="1.8"/>
<rect x="75.8" y="212.5" width="14.600000000000009" height="59.5" fill="#000"/>
<line x1="100.75" y1="219.4" x2="100.75" y2="224" stroke="#000" stroke-width="1.8"/>
<rect x="93.8" y="224" width="13.900000000000006" height="48" fill="#000"/>
<text x="63.3" y="247.75" font-size="10.8" font-weight="bold" transform="rotate(-90 63.3 247.75)">X10<tspan dy="-5" font-size="7.5">6</tspan></text>
<line x1="131.5" y1="201.5" x2="131.5" y2="273" stroke="#000" stroke-width="2"/>
<line x1="129.0" y1="272" x2="169.0" y2="272" stroke="#000" stroke-width="2"/>
<line x1="128.5" y1="201.5" x2="131.5" y2="201.5" stroke="#000" stroke-width="1.2"/>
<line x1="128.5" y1="225.0" x2="131.5" y2="225.0" stroke="#000" stroke-width="1.2"/>
<line x1="128.5" y1="248.5" x2="131.5" y2="248.5" stroke="#000" stroke-width="1.2"/>
<line x1="128.5" y1="272.0" x2="131.5" y2="272.0" stroke="#000" stroke-width="1.2"/>
<text x="127.5" y="204.5" font-size="8.5" fill="#000" font-weight="bold" text-anchor="end">3</text>
<text x="127.5" y="275" font-size="8.5" fill="#000" font-weight="bold" text-anchor="end">0</text>
<line x1="143.05" y1="213.5" x2="143.05" y2="216.9" stroke="#000" stroke-width="1.8"/>
<rect x="135.7" y="216.9" width="14.700000000000017" height="55.099999999999994" fill="#000"/>
<line x1="160.65" y1="219.2" x2="160.65" y2="220.7" stroke="#000" stroke-width="1.8"/>
<rect x="153.8" y="220.7" width="13.699999999999989" height="51.30000000000001" fill="#000"/>
<text x="123.0" y="247.75" font-size="10.8" font-weight="bold" transform="rotate(-90 123.0 247.75)">X10<tspan dy="-5" font-size="7.5">6</tspan></text>
<line x1="191" y1="201.5" x2="191" y2="273" stroke="#000" stroke-width="2"/>
<line x1="188.5" y1="272" x2="228.6" y2="272" stroke="#000" stroke-width="2"/>
<line x1="188" y1="201.5" x2="191" y2="201.5" stroke="#000" stroke-width="1.2"/>
<line x1="188" y1="215.6" x2="191" y2="215.6" stroke="#000" stroke-width="1.2"/>
<line x1="188" y1="229.7" x2="191" y2="229.7" stroke="#000" stroke-width="1.2"/>
<line x1="188" y1="243.8" x2="191" y2="243.8" stroke="#000" stroke-width="1.2"/>
<line x1="188" y1="257.9" x2="191" y2="257.9" stroke="#000" stroke-width="1.2"/>
<line x1="188" y1="272.0" x2="191" y2="272.0" stroke="#000" stroke-width="1.2"/>
<text x="187" y="204.5" font-size="8.5" fill="#000" font-weight="bold" text-anchor="end">10</text>
<text x="187" y="275" font-size="8.5" fill="#000" font-weight="bold" text-anchor="end">0</text>
<line x1="202.05" y1="217.5" x2="202.05" y2="220.7" stroke="#000" stroke-width="1.8"/>
<rect x="195.1" y="220.7" width="13.900000000000006" height="51.30000000000001" fill="#000"/>
<line x1="220.0" y1="211.2" x2="220.0" y2="216.5" stroke="#000" stroke-width="1.8"/>
<rect x="212.9" y="216.5" width="14.199999999999989" height="55.5" fill="#000"/>
<text x="182.5" y="247.75" font-size="10.8" font-weight="bold" transform="rotate(-90 182.5 247.75)">X10<tspan dy="-5" font-size="7.5">6</tspan></text>
<line x1="248" y1="201.5" x2="248" y2="273" stroke="#000" stroke-width="2"/>
<line x1="245.5" y1="272" x2="285.2" y2="272" stroke="#000" stroke-width="2"/>
<line x1="245" y1="201.5" x2="248" y2="201.5" stroke="#000" stroke-width="1.2"/>
<line x1="245" y1="215.6" x2="248" y2="215.6" stroke="#000" stroke-width="1.2"/>
<line x1="245" y1="229.7" x2="248" y2="229.7" stroke="#000" stroke-width="1.2"/>
<line x1="245" y1="243.8" x2="248" y2="243.8" stroke="#000" stroke-width="1.2"/>
<line x1="245" y1="257.9" x2="248" y2="257.9" stroke="#000" stroke-width="1.2"/>
<line x1="245" y1="272.0" x2="248" y2="272.0" stroke="#000" stroke-width="1.2"/>
<text x="244" y="204.5" font-size="8.5" fill="#000" font-weight="bold" text-anchor="end">5</text>
<text x="244" y="275" font-size="8.5" fill="#000" font-weight="bold" text-anchor="end">0</text>
<line x1="258.55" y1="207.4" x2="258.55" y2="210.6" stroke="#000" stroke-width="1.8"/>
<rect x="251.3" y="210.6" width="14.5" height="61.400000000000006" fill="#000"/>
<line x1="276.54999999999995" y1="223.2" x2="276.54999999999995" y2="228.7" stroke="#000" stroke-width="1.8"/>
<rect x="269.4" y="228.7" width="14.300000000000011" height="43.30000000000001" fill="#000"/>
<text x="239.5" y="247.75" font-size="10.8" font-weight="bold" transform="rotate(-90 239.5 247.75)">X10<tspan dy="-5" font-size="7.5">5</tspan></text>
<line x1="306" y1="201.5" x2="306" y2="273" stroke="#000" stroke-width="2"/>
<line x1="303.5" y1="272" x2="342.0" y2="272" stroke="#000" stroke-width="2"/>
<line x1="303" y1="201.5" x2="306" y2="201.5" stroke="#000" stroke-width="1.2"/>
<line x1="303" y1="225.0" x2="306" y2="225.0" stroke="#000" stroke-width="1.2"/>
<line x1="303" y1="248.5" x2="306" y2="248.5" stroke="#000" stroke-width="1.2"/>
<line x1="303" y1="272.0" x2="306" y2="272.0" stroke="#000" stroke-width="1.2"/>
<text x="302" y="204.5" font-size="8.5" fill="#000" font-weight="bold" text-anchor="end">6</text>
<text x="302" y="275" font-size="8.5" fill="#000" font-weight="bold" text-anchor="end">0</text>
<line x1="316.15" y1="205.5" x2="316.15" y2="206.4" stroke="#000" stroke-width="1.8"/>
<rect x="309" y="206.4" width="14.300000000000011" height="65.6" fill="#000"/>
<line x1="333.65" y1="261.8" x2="333.65" y2="262.6" stroke="#000" stroke-width="1.8"/>
<rect x="326.8" y="262.6" width="13.699999999999989" height="9.399999999999977" fill="#000"/>
<text x="297.5" y="247.75" font-size="10.8" font-weight="bold" transform="rotate(-90 297.5 247.75)">X10<tspan dy="-5" font-size="7.5">5</tspan></text>
<line x1="360.5" y1="201.5" x2="360.5" y2="273" stroke="#000" stroke-width="2"/>
<line x1="358.0" y1="272" x2="397.8" y2="272" stroke="#000" stroke-width="2"/>
<line x1="357.5" y1="201.5" x2="360.5" y2="201.5" stroke="#000" stroke-width="1.2"/>
<line x1="357.5" y1="219.125" x2="360.5" y2="219.125" stroke="#000" stroke-width="1.2"/>
<line x1="357.5" y1="236.75" x2="360.5" y2="236.75" stroke="#000" stroke-width="1.2"/>
<line x1="357.5" y1="254.375" x2="360.5" y2="254.375" stroke="#000" stroke-width="1.2"/>
<line x1="357.5" y1="272.0" x2="360.5" y2="272.0" stroke="#000" stroke-width="1.2"/>
<text x="356.5" y="204.5" font-size="8.5" fill="#000" font-weight="bold" text-anchor="end">2</text>
<text x="356.5" y="275" font-size="8.5" fill="#000" font-weight="bold" text-anchor="end">0</text>
<line x1="371.45000000000005" y1="221" x2="371.45000000000005" y2="225.5" stroke="#000" stroke-width="1.8"/>
<rect x="364.3" y="225.5" width="14.300000000000011" height="46.5" fill="#000"/>
<line x1="389.15" y1="214.4" x2="389.15" y2="226.4" stroke="#000" stroke-width="1.8"/>
<rect x="382" y="226.4" width="14.300000000000011" height="45.599999999999994" fill="#000"/>
<text x="352.0" y="247.75" font-size="10.8" font-weight="bold" transform="rotate(-90 352.0 247.75)">X10<tspan dy="-5" font-size="7.5">6</tspan></text>
<line x1="416" y1="201.5" x2="416" y2="273" stroke="#000" stroke-width="2"/>
<line x1="413.5" y1="272" x2="453.9" y2="272" stroke="#000" stroke-width="2"/>
<line x1="413" y1="201.5" x2="416" y2="201.5" stroke="#000" stroke-width="1.2"/>
<line x1="413" y1="219.125" x2="416" y2="219.125" stroke="#000" stroke-width="1.2"/>
<line x1="413" y1="236.75" x2="416" y2="236.75" stroke="#000" stroke-width="1.2"/>
<line x1="413" y1="254.375" x2="416" y2="254.375" stroke="#000" stroke-width="1.2"/>
<line x1="413" y1="272.0" x2="416" y2="272.0" stroke="#000" stroke-width="1.2"/>
<text x="412" y="204.5" font-size="8.5" fill="#000" font-weight="bold" text-anchor="end">12</text>
<text x="412" y="275" font-size="8.5" fill="#000" font-weight="bold" text-anchor="end">0</text>
<line x1="427.35" y1="208" x2="427.35" y2="208.7" stroke="#000" stroke-width="1.8"/>
<rect x="420" y="208.7" width="14.699999999999989" height="63.30000000000001" fill="#000"/>
<rect x="438.1" y="218.2" width="14.299999999999955" height="53.80000000000001" fill="#000"/>
<text x="407.5" y="247.75" font-size="10.8" font-weight="bold" transform="rotate(-90 407.5 247.75)">X10<tspan dy="-5" font-size="7.5">6</tspan></text>
<line x1="475.2" y1="201.5" x2="475.2" y2="273" stroke="#000" stroke-width="2"/>
<line x1="472.7" y1="272" x2="512.5" y2="272" stroke="#000" stroke-width="2"/>
<line x1="472.2" y1="201.5" x2="475.2" y2="201.5" stroke="#000" stroke-width="1.2"/>
<line x1="472.2" y1="219.125" x2="475.2" y2="219.125" stroke="#000" stroke-width="1.2"/>
<line x1="472.2" y1="236.75" x2="475.2" y2="236.75" stroke="#000" stroke-width="1.2"/>
<line x1="472.2" y1="254.375" x2="475.2" y2="254.375" stroke="#000" stroke-width="1.2"/>
<line x1="472.2" y1="272.0" x2="475.2" y2="272.0" stroke="#000" stroke-width="1.2"/>
<text x="471.2" y="204.5" font-size="8.5" fill="#000" font-weight="bold" text-anchor="end">16</text>
<text x="471.2" y="275" font-size="8.5" fill="#000" font-weight="bold" text-anchor="end">0</text>
<line x1="487.79999999999995" y1="208.3" x2="487.79999999999995" y2="221.7" stroke="#000" stroke-width="1.8"/>
<rect x="480.4" y="221.7" width="14.800000000000011" height="50.30000000000001" fill="#000"/>
<line x1="504.05" y1="208" x2="504.05" y2="216.3" stroke="#000" stroke-width="1.8"/>
<rect x="497.1" y="216.3" width="13.899999999999977" height="55.69999999999999" fill="#000"/>
<text x="466.7" y="247.75" font-size="10.8" font-weight="bold" transform="rotate(-90 466.7 247.75)">X10<tspan dy="-5" font-size="7.5">5</tspan></text>
<line x1="72.7" y1="282.6" x2="72.7" y2="354.2" stroke="#000" stroke-width="2"/>
<line x1="70.2" y1="353.2" x2="109.6" y2="353.2" stroke="#000" stroke-width="2"/>
<line x1="69.7" y1="282.6" x2="72.7" y2="282.6" stroke="#000" stroke-width="1.2"/>
<line x1="69.7" y1="296.72" x2="72.7" y2="296.72" stroke="#000" stroke-width="1.2"/>
<line x1="69.7" y1="310.84000000000003" x2="72.7" y2="310.84000000000003" stroke="#000" stroke-width="1.2"/>
<line x1="69.7" y1="324.96" x2="72.7" y2="324.96" stroke="#000" stroke-width="1.2"/>
<line x1="69.7" y1="339.08" x2="72.7" y2="339.08" stroke="#000" stroke-width="1.2"/>
<line x1="69.7" y1="353.2" x2="72.7" y2="353.2" stroke="#000" stroke-width="1.2"/>
<text x="68.7" y="285.6" font-size="8.5" fill="#000" font-weight="bold" text-anchor="end">2.5</text>
<text x="68.7" y="356.2" font-size="8.5" fill="#000" font-weight="bold" text-anchor="end">0</text>
<line x1="83.05000000000001" y1="289.9" x2="83.05000000000001" y2="304.9" stroke="#000" stroke-width="1.8"/>
<rect x="75.9" y="304.9" width="14.299999999999997" height="48.30000000000001" fill="#000"/>
<line x1="100.69999999999999" y1="284" x2="100.69999999999999" y2="294.6" stroke="#000" stroke-width="1.8"/>
<rect x="93.3" y="294.6" width="14.799999999999997" height="58.599999999999966" fill="#000"/>
<text x="64.2" y="328.9" font-size="10.8" font-weight="bold" transform="rotate(-90 64.2 328.9)">X10<tspan dy="-5" font-size="7.5">6</tspan></text>
<line x1="131.9" y1="282.6" x2="131.9" y2="354.2" stroke="#000" stroke-width="2"/>
<line x1="129.4" y1="353.2" x2="169.0" y2="353.2" stroke="#000" stroke-width="2"/>
<line x1="128.9" y1="282.6" x2="131.9" y2="282.6" stroke="#000" stroke-width="1.2"/>
<line x1="128.9" y1="306.1333333333333" x2="131.9" y2="306.1333333333333" stroke="#000" stroke-width="1.2"/>
<line x1="128.9" y1="329.6666666666667" x2="131.9" y2="329.6666666666667" stroke="#000" stroke-width="1.2"/>
<line x1="128.9" y1="353.2" x2="131.9" y2="353.2" stroke="#000" stroke-width="1.2"/>
<text x="127.9" y="285.6" font-size="8.5" fill="#000" font-weight="bold" text-anchor="end">3</text>
<text x="127.9" y="356.2" font-size="8.5" fill="#000" font-weight="bold" text-anchor="end">0</text>
<line x1="143.05" y1="328.9" x2="143.05" y2="331.2" stroke="#000" stroke-width="1.8"/>
<rect x="135.7" y="331.2" width="14.700000000000017" height="22.0" fill="#000"/>
<line x1="160.65" y1="300.3" x2="160.65" y2="310.8" stroke="#000" stroke-width="1.8"/>
<rect x="153.8" y="310.8" width="13.699999999999989" height="42.39999999999998" fill="#000"/>
<text x="123.4" y="328.9" font-size="10.8" font-weight="bold" transform="rotate(-90 123.4 328.9)">X10<tspan dy="-5" font-size="7.5">6</tspan></text>
<line x1="191" y1="282.6" x2="191" y2="354.2" stroke="#000" stroke-width="2"/>
<line x1="188.5" y1="353.2" x2="228.3" y2="353.2" stroke="#000" stroke-width="2"/>
<line x1="188" y1="282.6" x2="191" y2="282.6" stroke="#000" stroke-width="1.2"/>
<line x1="188" y1="300.25" x2="191" y2="300.25" stroke="#000" stroke-width="1.2"/>
<line x1="188" y1="317.9" x2="191" y2="317.9" stroke="#000" stroke-width="1.2"/>
<line x1="188" y1="335.55" x2="191" y2="335.55" stroke="#000" stroke-width="1.2"/>
<line x1="188" y1="353.2" x2="191" y2="353.2" stroke="#000" stroke-width="1.2"/>
<text x="187" y="285.6" font-size="8.5" fill="#000" font-weight="bold" text-anchor="end">4</text>
<text x="187" y="356.2" font-size="8.5" fill="#000" font-weight="bold" text-anchor="end">0</text>
<line x1="202.25" y1="307.4" x2="202.25" y2="320.7" stroke="#000" stroke-width="1.8"/>
<rect x="195.1" y="320.7" width="14.300000000000011" height="32.5" fill="#000"/>
<line x1="219.55" y1="292.1" x2="219.55" y2="305.5" stroke="#000" stroke-width="1.8"/>
<rect x="212.3" y="305.5" width="14.5" height="47.69999999999999" fill="#000"/>
<text x="182.5" y="328.9" font-size="10.8" font-weight="bold" transform="rotate(-90 182.5 328.9)">X10<tspan dy="-5" font-size="7.5">6</tspan></text>
<line x1="248.1" y1="282.6" x2="248.1" y2="354.2" stroke="#000" stroke-width="2"/>
<line x1="245.6" y1="353.2" x2="285.8" y2="353.2" stroke="#000" stroke-width="2"/>
<line x1="245.1" y1="282.6" x2="248.1" y2="282.6" stroke="#000" stroke-width="1.2"/>
<line x1="245.1" y1="296.72" x2="248.1" y2="296.72" stroke="#000" stroke-width="1.2"/>
<line x1="245.1" y1="310.84000000000003" x2="248.1" y2="310.84000000000003" stroke="#000" stroke-width="1.2"/>
<line x1="245.1" y1="324.96" x2="248.1" y2="324.96" stroke="#000" stroke-width="1.2"/>
<line x1="245.1" y1="339.08" x2="248.1" y2="339.08" stroke="#000" stroke-width="1.2"/>
<line x1="245.1" y1="353.2" x2="248.1" y2="353.2" stroke="#000" stroke-width="1.2"/>
<text x="244.1" y="285.6" font-size="8.5" fill="#000" font-weight="bold" text-anchor="end">2.5</text>
<text x="244.1" y="356.2" font-size="8.5" fill="#000" font-weight="bold" text-anchor="end">0</text>
<line x1="260.1" y1="292.5" x2="260.1" y2="299.8" stroke="#000" stroke-width="1.8"/>
<rect x="252.9" y="299.8" width="14.400000000000006" height="53.39999999999998" fill="#000"/>
<line x1="277.15" y1="313.1" x2="277.15" y2="316" stroke="#000" stroke-width="1.8"/>
<rect x="270" y="316" width="14.300000000000011" height="37.19999999999999" fill="#000"/>
<text x="239.6" y="328.9" font-size="10.8" font-weight="bold" transform="rotate(-90 239.6 328.9)">X10<tspan dy="-5" font-size="7.5">6</tspan></text>
<line x1="306" y1="282.6" x2="306" y2="354.2" stroke="#000" stroke-width="2"/>
<line x1="303.5" y1="353.2" x2="343.4" y2="353.2" stroke="#000" stroke-width="2"/>
<line x1="303" y1="282.6" x2="306" y2="282.6" stroke="#000" stroke-width="1.2"/>
<line x1="303" y1="296.72" x2="306" y2="296.72" stroke="#000" stroke-width="1.2"/>
<line x1="303" y1="310.84000000000003" x2="306" y2="310.84000000000003" stroke="#000" stroke-width="1.2"/>
<line x1="303" y1="324.96" x2="306" y2="324.96" stroke="#000" stroke-width="1.2"/>
<line x1="303" y1="339.08" x2="306" y2="339.08" stroke="#000" stroke-width="1.2"/>
<line x1="303" y1="353.2" x2="306" y2="353.2" stroke="#000" stroke-width="1.2"/>
<text x="302" y="285.6" font-size="8.5" fill="#000" font-weight="bold" text-anchor="end">10</text>
<text x="302" y="356.2" font-size="8.5" fill="#000" font-weight="bold" text-anchor="end">0</text>
<line x1="316.6" y1="288.2" x2="316.6" y2="296.1" stroke="#000" stroke-width="1.8"/>
<rect x="309.3" y="296.1" width="14.599999999999966" height="57.099999999999966" fill="#000"/>
<line x1="334.5" y1="338.5" x2="334.5" y2="339.4" stroke="#000" stroke-width="1.8"/>
<rect x="327.1" y="339.4" width="14.799999999999955" height="13.800000000000011" fill="#000"/>
<text x="297.5" y="328.9" font-size="10.8" font-weight="bold" transform="rotate(-90 297.5 328.9)">X10<tspan dy="-5" font-size="7.5">5</tspan></text>
<line x1="359.5" y1="282.6" x2="359.5" y2="354.2" stroke="#000" stroke-width="2"/>
<line x1="357.0" y1="353.2" x2="396.3" y2="353.2" stroke="#000" stroke-width="2"/>
<line x1="356.5" y1="282.6" x2="359.5" y2="282.6" stroke="#000" stroke-width="1.2"/>
<line x1="356.5" y1="306.1333333333333" x2="359.5" y2="306.1333333333333" stroke="#000" stroke-width="1.2"/>
<line x1="356.5" y1="329.6666666666667" x2="359.5" y2="329.6666666666667" stroke="#000" stroke-width="1.2"/>
<line x1="356.5" y1="353.2" x2="359.5" y2="353.2" stroke="#000" stroke-width="1.2"/>
<text x="355.5" y="285.6" font-size="8.5" fill="#000" font-weight="bold" text-anchor="end">3</text>
<text x="355.5" y="356.2" font-size="8.5" fill="#000" font-weight="bold" text-anchor="end">0</text>
<line x1="370.0" y1="285.5" x2="370.0" y2="291.2" stroke="#000" stroke-width="1.8"/>
<rect x="363" y="291.2" width="14" height="62.0" fill="#000"/>
<line x1="387.85" y1="295.4" x2="387.85" y2="300.1" stroke="#000" stroke-width="1.8"/>
<rect x="380.9" y="300.1" width="13.900000000000034" height="53.099999999999966" fill="#000"/>
<text x="351.0" y="328.9" font-size="10.8" font-weight="bold" transform="rotate(-90 351.0 328.9)">X10<tspan dy="-5" font-size="7.5">7</tspan></text>
<line x1="414.3" y1="282.6" x2="414.3" y2="354.2" stroke="#000" stroke-width="2"/>
<line x1="411.8" y1="353.2" x2="452.9" y2="353.2" stroke="#000" stroke-width="2"/>
<line x1="411.3" y1="282.6" x2="414.3" y2="282.6" stroke="#000" stroke-width="1.2"/>
<line x1="411.3" y1="292.6857142857143" x2="414.3" y2="292.6857142857143" stroke="#000" stroke-width="1.2"/>
<line x1="411.3" y1="302.7714285714286" x2="414.3" y2="302.7714285714286" stroke="#000" stroke-width="1.2"/>
<line x1="411.3" y1="312.8571428571429" x2="414.3" y2="312.8571428571429" stroke="#000" stroke-width="1.2"/>
<line x1="411.3" y1="322.9428571428571" x2="414.3" y2="322.9428571428571" stroke="#000" stroke-width="1.2"/>
<line x1="411.3" y1="333.0285714285714" x2="414.3" y2="333.0285714285714" stroke="#000" stroke-width="1.2"/>
<line x1="411.3" y1="343.1142857142857" x2="414.3" y2="343.1142857142857" stroke="#000" stroke-width="1.2"/>
<line x1="411.3" y1="353.2" x2="414.3" y2="353.2" stroke="#000" stroke-width="1.2"/>
<text x="410.3" y="285.6" font-size="8.5" fill="#000" font-weight="bold" text-anchor="end">7</text>
<text x="410.3" y="356.2" font-size="8.5" fill="#000" font-weight="bold" text-anchor="end">0</text>
<line x1="424.75" y1="296.3" x2="424.75" y2="299.8" stroke="#000" stroke-width="1.8"/>
<rect x="417.7" y="299.8" width="14.100000000000023" height="53.39999999999998" fill="#000"/>
<line x1="444.1" y1="288.7" x2="444.1" y2="294" stroke="#000" stroke-width="1.8"/>
<rect x="436.8" y="294" width="14.599999999999966" height="59.19999999999999" fill="#000"/>
<text x="405.8" y="328.9" font-size="10.8" font-weight="bold" transform="rotate(-90 405.8 328.9)">X10<tspan dy="-5" font-size="7.5">7</tspan></text>
<line x1="475.2" y1="282.6" x2="475.2" y2="354.2" stroke="#000" stroke-width="2"/>
<line x1="472.7" y1="353.2" x2="513.3" y2="353.2" stroke="#000" stroke-width="2"/>
<line x1="472.2" y1="282.6" x2="475.2" y2="282.6" stroke="#000" stroke-width="1.2"/>
<line x1="472.2" y1="300.25" x2="475.2" y2="300.25" stroke="#000" stroke-width="1.2"/>
<line x1="472.2" y1="317.9" x2="475.2" y2="317.9" stroke="#000" stroke-width="1.2"/>
<line x1="472.2" y1="335.55" x2="475.2" y2="335.55" stroke="#000" stroke-width="1.2"/>
<line x1="472.2" y1="353.2" x2="475.2" y2="353.2" stroke="#000" stroke-width="1.2"/>
<text x="471.2" y="285.6" font-size="8.5" fill="#000" font-weight="bold" text-anchor="end">4</text>
<text x="471.2" y="356.2" font-size="8.5" fill="#000" font-weight="bold" text-anchor="end">0</text>
<line x1="487.9" y1="295" x2="487.9" y2="300.7" stroke="#000" stroke-width="1.8"/>
<rect x="480.6" y="300.7" width="14.599999999999966" height="52.5" fill="#000"/>
<line x1="504.45000000000005" y1="287.4" x2="504.45000000000005" y2="294.8" stroke="#000" stroke-width="1.8"/>
<rect x="497.1" y="294.8" width="14.699999999999989" height="58.39999999999998" fill="#000"/>
<text x="466.7" y="328.9" font-size="10.8" font-weight="bold" transform="rotate(-90 466.7 328.9)">X10<tspan dy="-5" font-size="7.5">6</tspan></text>
<line x1="309" y1="201.7" x2="341.4" y2="201.7" stroke="#000" stroke-width="1.5"/>
<text x="324.8" y="202.9" font-size="10.5" fill="#000" font-weight="bold" text-anchor="middle">***</text>
<line x1="308.9" y1="284.7" x2="342.1" y2="284.7" stroke="#000" stroke-width="1.5"/>
<text x="324.7" y="286.4" font-size="10.5" fill="#000" font-weight="bold" text-anchor="middle">**</text>
<text x="88.60000000000001" y="407.3" font-size="10.6" font-weight="bold" transform="rotate(-90 88.60000000000001 407.3)">Wild type</text>
<text x="103.30000000000001" y="414.9" font-size="10" font-weight="bold" font-style="italic" transform="rotate(-90 103.30000000000001 414.9)">Runx1<tspan dy="-3.6" font-size="6.1">P1N/P1N</tspan></text>
<text x="147.8" y="407.3" font-size="10.6" font-weight="bold" transform="rotate(-90 147.8 407.3)">Wild type</text>
<text x="162.5" y="414.9" font-size="10" font-weight="bold" font-style="italic" transform="rotate(-90 162.5 414.9)">Runx1<tspan dy="-3.6" font-size="6.1">P1N/P1N</tspan></text>
<text x="206.9" y="407.3" font-size="10.6" font-weight="bold" transform="rotate(-90 206.9 407.3)">Wild type</text>
<text x="221.6" y="414.9" font-size="10" font-weight="bold" font-style="italic" transform="rotate(-90 221.6 414.9)">Runx1<tspan dy="-3.6" font-size="6.1">P1N/P1N</tspan></text>
<text x="264.0" y="407.3" font-size="10.6" font-weight="bold" transform="rotate(-90 264.0 407.3)">Wild type</text>
<text x="278.7" y="414.9" font-size="10" font-weight="bold" font-style="italic" transform="rotate(-90 278.7 414.9)">Runx1<tspan dy="-3.6" font-size="6.1">P1N/P1N</tspan></text>
<text x="321.9" y="407.3" font-size="10.6" font-weight="bold" transform="rotate(-90 321.9 407.3)">Wild type</text>
<text x="336.6" y="414.9" font-size="10" font-weight="bold" font-style="italic" transform="rotate(-90 336.6 414.9)">Runx1<tspan dy="-3.6" font-size="6.1">P1N/P1N</tspan></text>
<text x="375.4" y="407.3" font-size="10.6" font-weight="bold" transform="rotate(-90 375.4 407.3)">Wild type</text>
<text x="390.1" y="414.9" font-size="10" font-weight="bold" font-style="italic" transform="rotate(-90 390.1 414.9)">Runx1<tspan dy="-3.6" font-size="6.1">P1N/P1N</tspan></text>
<text x="430.2" y="407.3" font-size="10.6" font-weight="bold" transform="rotate(-90 430.2 407.3)">Wild type</text>
<text x="444.90000000000003" y="414.9" font-size="10" font-weight="bold" font-style="italic" transform="rotate(-90 444.90000000000003 414.9)">Runx1<tspan dy="-3.6" font-size="6.1">P1N/P1N</tspan></text>
<text x="491.09999999999997" y="407.3" font-size="10.6" font-weight="bold" transform="rotate(-90 491.09999999999997 407.3)">Wild type</text>
<text x="505.8" y="414.9" font-size="10" font-weight="bold" font-style="italic" transform="rotate(-90 505.8 414.9)">Runx1<tspan dy="-3.6" font-size="6.1">P1N/P1N</tspan></text>
</g>
</svg>
</body></html>
